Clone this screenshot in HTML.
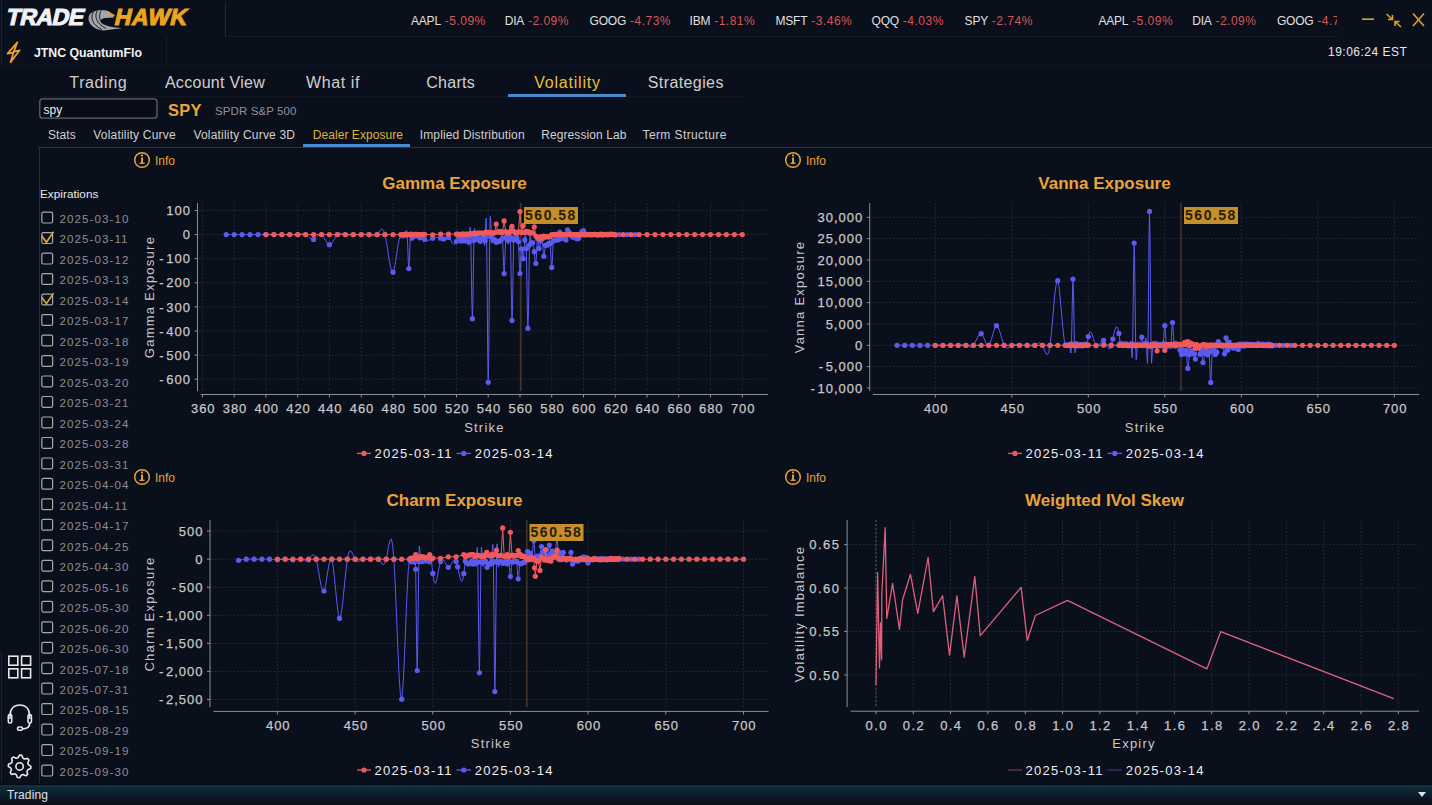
<!DOCTYPE html>
<html><head><meta charset="utf-8"><style>
html,body{margin:0;padding:0;background:#0a0f1c;width:1432px;height:805px;overflow:hidden}
svg{display:block;font-family:"Liberation Sans", sans-serif}
</style></head><body>
<svg width="1432" height="805" viewBox="0 0 1432 805">
<rect width="1432" height="805" fill="#0a0f1c"/>
<line x1="1.5" y1="0" x2="1.5" y2="65" stroke="#1c2230" stroke-width="1"/>
<line x1="225.5" y1="3" x2="225.5" y2="36.5" stroke="#252b38" stroke-width="1"/>
<line x1="225.5" y1="36.5" x2="1337" y2="36.5" stroke="#161b27" stroke-width="1"/>
<line x1="166.5" y1="36.5" x2="166.5" y2="65" stroke="#161b27" stroke-width="1"/>
<line x1="0" y1="65.5" x2="1432" y2="65.5" stroke="#11161f" stroke-width="1"/>
<line x1="40" y1="96.5" x2="743" y2="96.5" stroke="#11161f" stroke-width="1"/>
<text x="0" y="0" transform="translate(5.3,25.2) skewX(-13)" font-size="23" font-weight="bold" fill="#f2f2f2" stroke="#f2f2f2" stroke-width="1.1" letter-spacing="-0.4">TRADE</text>
<text x="0" y="0" transform="translate(113.5,25.2) skewX(-13)" font-size="23" font-weight="bold" fill="#eaa41f" stroke="#eaa41f" stroke-width="1.1" letter-spacing="0.6">HAWK</text>
<path d="M110.8,12.4 C104,8.6 94,9.2 89.6,14.6 C86.2,20.5 91.5,29.8 103.5,30.4 L121.8,28.2 C113,27.6 105,26.5 101.6,22.6 C99.8,20 101.8,18.2 105.5,18 L114,17.4 Z" fill="#a4a6ab"/>
<g fill="none" stroke="#0a0e19" stroke-width="0.9"><path d="M93.5,11.8 C90,17 92,25 102,29.5"/><path d="M97.5,10.3 C94,16 96,23.5 106,28.5"/><path d="M101.5,9.6 C98.5,15 99,20.5 103,24.5"/></g>
<path d="M108,13.6 C111,12.8 114,13.6 115,16.2 L109,16.5 Z" fill="#e8a020"/>
<text x="411" y="24.8" font-size="12" fill="#e0e0e0" letter-spacing="-0.2">AAPL<tspan fill="#d85656" letter-spacing="0.5"> -5.09%</tspan></text>
<text x="504.7" y="24.8" font-size="12" fill="#e0e0e0" letter-spacing="-0.2">DIA<tspan fill="#d85656" letter-spacing="0.5"> -2.09%</tspan></text>
<text x="589.6" y="24.8" font-size="12" fill="#e0e0e0" letter-spacing="-0.2">GOOG<tspan fill="#d85656" letter-spacing="0.5"> -4.73%</tspan></text>
<text x="689.6" y="24.8" font-size="12" fill="#e0e0e0" letter-spacing="-0.2">IBM<tspan fill="#d85656" letter-spacing="0.5"> -1.81%</tspan></text>
<text x="775.5" y="24.8" font-size="12" fill="#e0e0e0" letter-spacing="-0.2">MSFT<tspan fill="#d85656" letter-spacing="0.5"> -3.46%</tspan></text>
<text x="871.6" y="24.8" font-size="12" fill="#e0e0e0" letter-spacing="-0.2">QQQ<tspan fill="#d85656" letter-spacing="0.5"> -4.03%</tspan></text>
<text x="964.6" y="24.8" font-size="12" fill="#e0e0e0" letter-spacing="-0.2">SPY<tspan fill="#d85656" letter-spacing="0.5"> -2.74%</tspan></text>
<clipPath id="tk"><rect x="1000" y="0" width="337" height="36"/></clipPath><g clip-path="url(#tk)">
<text x="1098.4" y="24.8" font-size="12" fill="#e0e0e0" letter-spacing="-0.2">AAPL<tspan fill="#d85656" letter-spacing="0.5"> -5.09%</tspan></text>
<text x="1192.2" y="24.8" font-size="12" fill="#e0e0e0" letter-spacing="-0.2">DIA<tspan fill="#d85656" letter-spacing="0.5"> -2.09%</tspan></text>
<text x="1276.9" y="24.8" font-size="12" fill="#e0e0e0" letter-spacing="-0.2">GOOG<tspan fill="#d85656" letter-spacing="0.5"> -4.73%</tspan></text>
</g>
<g stroke="#e0a030" stroke-width="1.6" fill="none"><line x1="1362" y1="19.2" x2="1374" y2="19.2"/><path d="M1386.5,14 L1392.5,19.5 M1392.5,15 L1392.5,19.5 L1388,19.5"/><path d="M1401,27 L1395,21.5 M1395,26 L1395,21.5 L1399.5,21.5"/><line x1="1413" y1="13.5" x2="1424" y2="26"/><line x1="1424" y1="13.5" x2="1413" y2="26"/></g>
<path d="M17.3,42.3 L7.6,53.6 L13.6,52.3 L10.6,62.2 L19.6,50.3 L13.8,51.6 Z" fill="none" stroke="#e8a030" stroke-width="1.8" stroke-linejoin="round"/>
<text x="34" y="57" font-size="12.3" font-weight="bold" fill="#f2f2f2">JTNC QuantumFlo</text>
<text x="1328" y="56.2" font-size="12" fill="#e8e8e8" letter-spacing="0.5">19:06:24 EST</text>
<text x="98.3" y="88.2" font-size="16" fill="#d0d0d0" letter-spacing="0.6" text-anchor="middle">Trading</text>
<text x="215" y="88.2" font-size="16" fill="#d0d0d0" letter-spacing="0.3" text-anchor="middle">Account View</text>
<text x="333" y="88.2" font-size="16" fill="#d0d0d0" letter-spacing="0.6" text-anchor="middle">What if</text>
<text x="450.6" y="88.2" font-size="16" fill="#d0d0d0" letter-spacing="0.3" text-anchor="middle">Charts</text>
<text x="567.5" y="88.2" font-size="16" fill="#e8c040" letter-spacing="0.8" text-anchor="middle">Volatility</text>
<text x="685.8" y="88.2" font-size="16" fill="#d0d0d0" letter-spacing="0.4" text-anchor="middle">Strategies</text>
<rect x="508" y="94" width="118" height="3" fill="#4a88d0"/>
<rect x="39.8" y="98.8" width="117.2" height="19.4" rx="3" fill="#0a0d17" stroke="#62666f" stroke-width="1.25"/>
<text x="43.6" y="113.7" font-size="12" fill="#f0f0f0">spy</text>
<text x="168" y="115.8" font-size="16.5" font-weight="bold" fill="#eaa43a" letter-spacing="0.2">SPY</text>
<text x="215" y="114.5" font-size="11.5" fill="#8e9299" letter-spacing="0.1">SPDR S&amp;P 500</text>
<text x="48" y="139.3" font-size="12" fill="#d0d0d0" letter-spacing="0.1">Stats</text>
<text x="93.3" y="139.3" font-size="12" fill="#d0d0d0" letter-spacing="0.2">Volatility Curve</text>
<text x="193.4" y="139.3" font-size="12" fill="#d0d0d0" letter-spacing="0.2">Volatility Curve 3D</text>
<text x="312.8" y="139.3" font-size="12" fill="#dcb43a" letter-spacing="0.05">Dealer Exposure</text>
<text x="419.7" y="139.3" font-size="12" fill="#d0d0d0" letter-spacing="0.15">Implied Distribution</text>
<text x="541.2" y="139.3" font-size="12" fill="#d0d0d0" letter-spacing="0.1">Regression Lab</text>
<text x="642.5" y="139.3" font-size="12" fill="#d0d0d0" letter-spacing="0.4">Term Structure</text>
<line x1="38" y1="147.5" x2="1432" y2="147.5" stroke="#2e343f" stroke-width="1"/>
<rect x="303" y="144" width="107" height="3" fill="#4a88d0"/>
<line x1="39.5" y1="147" x2="39.5" y2="783" stroke="#262b36" stroke-width="1"/>
<line x1="1.5" y1="651" x2="1.5" y2="782" stroke="#1c2230" stroke-width="1"/>
<text x="40" y="197.7" font-size="11.7" fill="#e8e8e8" letter-spacing="0.05">Expirations</text>
<rect x="41.8" y="212.2" width="10.8" height="10.8" rx="1.5" fill="none" stroke="#a8aab0" stroke-width="1.2"/>
<text x="59.6" y="222.9" font-size="11.6" fill="#8c8e92" letter-spacing="1.05">2025-03-10</text>
<rect x="41.8" y="232.7" width="10.8" height="10.8" rx="1.5" fill="none" stroke="#a8aab0" stroke-width="1.2"/>
<path d="M41.9,236.0 L46.4,242.3 L53.6,231.7" fill="none" stroke="#e0ac3a" stroke-width="1.6"/>
<text x="59.6" y="243.4" font-size="11.6" fill="#8c8e92" letter-spacing="1.05">2025-03-11</text>
<rect x="41.8" y="253.2" width="10.8" height="10.8" rx="1.5" fill="none" stroke="#a8aab0" stroke-width="1.2"/>
<text x="59.6" y="263.9" font-size="11.6" fill="#8c8e92" letter-spacing="1.05">2025-03-12</text>
<rect x="41.8" y="273.6" width="10.8" height="10.8" rx="1.5" fill="none" stroke="#a8aab0" stroke-width="1.2"/>
<text x="59.6" y="284.3" font-size="11.6" fill="#8c8e92" letter-spacing="1.05">2025-03-13</text>
<rect x="41.8" y="294.1" width="10.8" height="10.8" rx="1.5" fill="none" stroke="#a8aab0" stroke-width="1.2"/>
<path d="M41.9,297.4 L46.4,303.7 L53.6,293.1" fill="none" stroke="#e0ac3a" stroke-width="1.6"/>
<text x="59.6" y="304.8" font-size="11.6" fill="#8c8e92" letter-spacing="1.05">2025-03-14</text>
<rect x="41.8" y="314.6" width="10.8" height="10.8" rx="1.5" fill="none" stroke="#a8aab0" stroke-width="1.2"/>
<text x="59.6" y="325.3" font-size="11.6" fill="#8c8e92" letter-spacing="1.05">2025-03-17</text>
<rect x="41.8" y="335.1" width="10.8" height="10.8" rx="1.5" fill="none" stroke="#a8aab0" stroke-width="1.2"/>
<text x="59.6" y="345.8" font-size="11.6" fill="#8c8e92" letter-spacing="1.05">2025-03-18</text>
<rect x="41.8" y="355.6" width="10.8" height="10.8" rx="1.5" fill="none" stroke="#a8aab0" stroke-width="1.2"/>
<text x="59.6" y="366.3" font-size="11.6" fill="#8c8e92" letter-spacing="1.05">2025-03-19</text>
<rect x="41.8" y="376.0" width="10.8" height="10.8" rx="1.5" fill="none" stroke="#a8aab0" stroke-width="1.2"/>
<text x="59.6" y="386.7" font-size="11.6" fill="#8c8e92" letter-spacing="1.05">2025-03-20</text>
<rect x="41.8" y="396.5" width="10.8" height="10.8" rx="1.5" fill="none" stroke="#a8aab0" stroke-width="1.2"/>
<text x="59.6" y="407.2" font-size="11.6" fill="#8c8e92" letter-spacing="1.05">2025-03-21</text>
<rect x="41.8" y="417.0" width="10.8" height="10.8" rx="1.5" fill="none" stroke="#a8aab0" stroke-width="1.2"/>
<text x="59.6" y="427.7" font-size="11.6" fill="#8c8e92" letter-spacing="1.05">2025-03-24</text>
<rect x="41.8" y="437.5" width="10.8" height="10.8" rx="1.5" fill="none" stroke="#a8aab0" stroke-width="1.2"/>
<text x="59.6" y="448.2" font-size="11.6" fill="#8c8e92" letter-spacing="1.05">2025-03-28</text>
<rect x="41.8" y="458.0" width="10.8" height="10.8" rx="1.5" fill="none" stroke="#a8aab0" stroke-width="1.2"/>
<text x="59.6" y="468.7" font-size="11.6" fill="#8c8e92" letter-spacing="1.05">2025-03-31</text>
<rect x="41.8" y="478.4" width="10.8" height="10.8" rx="1.5" fill="none" stroke="#a8aab0" stroke-width="1.2"/>
<text x="59.6" y="489.1" font-size="11.6" fill="#8c8e92" letter-spacing="1.05">2025-04-04</text>
<rect x="41.8" y="498.9" width="10.8" height="10.8" rx="1.5" fill="none" stroke="#a8aab0" stroke-width="1.2"/>
<text x="59.6" y="509.6" font-size="11.6" fill="#8c8e92" letter-spacing="1.05">2025-04-11</text>
<rect x="41.8" y="519.4" width="10.8" height="10.8" rx="1.5" fill="none" stroke="#a8aab0" stroke-width="1.2"/>
<text x="59.6" y="530.1" font-size="11.6" fill="#8c8e92" letter-spacing="1.05">2025-04-17</text>
<rect x="41.8" y="539.9" width="10.8" height="10.8" rx="1.5" fill="none" stroke="#a8aab0" stroke-width="1.2"/>
<text x="59.6" y="550.6" font-size="11.6" fill="#8c8e92" letter-spacing="1.05">2025-04-25</text>
<rect x="41.8" y="560.4" width="10.8" height="10.8" rx="1.5" fill="none" stroke="#a8aab0" stroke-width="1.2"/>
<text x="59.6" y="571.1" font-size="11.6" fill="#8c8e92" letter-spacing="1.05">2025-04-30</text>
<rect x="41.8" y="580.8" width="10.8" height="10.8" rx="1.5" fill="none" stroke="#a8aab0" stroke-width="1.2"/>
<text x="59.6" y="591.5" font-size="11.6" fill="#8c8e92" letter-spacing="1.05">2025-05-16</text>
<rect x="41.8" y="601.3" width="10.8" height="10.8" rx="1.5" fill="none" stroke="#a8aab0" stroke-width="1.2"/>
<text x="59.6" y="612.0" font-size="11.6" fill="#8c8e92" letter-spacing="1.05">2025-05-30</text>
<rect x="41.8" y="621.8" width="10.8" height="10.8" rx="1.5" fill="none" stroke="#a8aab0" stroke-width="1.2"/>
<text x="59.6" y="632.5" font-size="11.6" fill="#8c8e92" letter-spacing="1.05">2025-06-20</text>
<rect x="41.8" y="642.3" width="10.8" height="10.8" rx="1.5" fill="none" stroke="#a8aab0" stroke-width="1.2"/>
<text x="59.6" y="653.0" font-size="11.6" fill="#8c8e92" letter-spacing="1.05">2025-06-30</text>
<rect x="41.8" y="662.8" width="10.8" height="10.8" rx="1.5" fill="none" stroke="#a8aab0" stroke-width="1.2"/>
<text x="59.6" y="673.5" font-size="11.6" fill="#8c8e92" letter-spacing="1.05">2025-07-18</text>
<rect x="41.8" y="683.2" width="10.8" height="10.8" rx="1.5" fill="none" stroke="#a8aab0" stroke-width="1.2"/>
<text x="59.6" y="693.9" font-size="11.6" fill="#8c8e92" letter-spacing="1.05">2025-07-31</text>
<rect x="41.8" y="703.7" width="10.8" height="10.8" rx="1.5" fill="none" stroke="#a8aab0" stroke-width="1.2"/>
<text x="59.6" y="714.4" font-size="11.6" fill="#8c8e92" letter-spacing="1.05">2025-08-15</text>
<rect x="41.8" y="724.2" width="10.8" height="10.8" rx="1.5" fill="none" stroke="#a8aab0" stroke-width="1.2"/>
<text x="59.6" y="734.9" font-size="11.6" fill="#8c8e92" letter-spacing="1.05">2025-08-29</text>
<rect x="41.8" y="744.7" width="10.8" height="10.8" rx="1.5" fill="none" stroke="#a8aab0" stroke-width="1.2"/>
<text x="59.6" y="755.4" font-size="11.6" fill="#8c8e92" letter-spacing="1.05">2025-09-19</text>
<rect x="41.8" y="765.2" width="10.8" height="10.8" rx="1.5" fill="none" stroke="#a8aab0" stroke-width="1.2"/>
<text x="59.6" y="775.9" font-size="11.6" fill="#8c8e92" letter-spacing="1.05">2025-09-30</text>
<g fill="none" stroke="#e8e8e8" stroke-width="1.6"><rect x="8.8" y="656.2" width="9" height="9"/><rect x="21.6" y="656.2" width="9" height="9"/><rect x="8.8" y="668.8" width="9" height="9"/><rect x="21.6" y="668.8" width="9" height="9"/></g>
<g fill="none" stroke="#e8e8e8" stroke-width="1.6"><path d="M10,719 L10,716 C10,709 14,705 19.8,705 C25.6,705 29.6,709 29.6,716 L29.6,719"/><rect x="8.3" y="714.5" width="3.4" height="8.5" rx="1.5"/><rect x="28" y="714.5" width="3.4" height="8.5" rx="1.5"/><path d="M29.8,723 C29.8,727 27,729 22,729"/><rect x="17.5" y="727" width="5" height="3.2" rx="1.5"/></g>
<path d="M19.6,755.1 L21.8,755.3 L23.0,758.2 L24.5,759.0 L27.6,758.4 L29.0,760.1 L27.8,763.0 L28.3,764.7 L30.9,766.4 L30.7,768.6 L27.8,769.8 L27.0,771.3 L27.6,774.4 L25.9,775.8 L23.0,774.6 L21.3,775.1 L19.6,777.7 L17.4,777.5 L16.2,774.6 L14.7,773.8 L11.6,774.4 L10.2,772.7 L11.4,769.8 L10.9,768.1 L8.3,766.4 L8.5,764.2 L11.4,763.0 L12.2,761.5 L11.6,758.4 L13.3,757.0 L16.2,758.2 L17.9,757.7Z" fill="none" stroke="#e8e8e8" stroke-width="1.6" stroke-linejoin="round"/>
<circle cx="19.6" cy="766.4" r="3.7" fill="none" stroke="#e8e8e8" stroke-width="1.6"/>
<linearGradient id="sb" x1="0" y1="0" x2="0" y2="1"><stop offset="0" stop-color="#163240"/><stop offset="0.18" stop-color="#0d2b39"/><stop offset="0.45" stop-color="#0d2130"/><stop offset="0.8" stop-color="#0b1724"/><stop offset="1" stop-color="#0a111d"/></linearGradient>
<rect x="0" y="784" width="1432" height="1" fill="#040a12"/>
<rect x="0" y="785" width="1432" height="17" fill="url(#sb)"/>
<text x="7" y="799" font-size="12" fill="#e0e0e0" letter-spacing="0.1">Trading</text>
<path d="M1418,792 L1426,792 L1422,797 Z" fill="#e0e0e0"/>
<line x1="202.4" y1="203" x2="202.4" y2="391" stroke="#242a35" stroke-width="1" stroke-dasharray="2,1.7"/>
<line x1="234.2" y1="203" x2="234.2" y2="391" stroke="#242a35" stroke-width="1" stroke-dasharray="2,1.7"/>
<line x1="265.9" y1="203" x2="265.9" y2="391" stroke="#242a35" stroke-width="1" stroke-dasharray="2,1.7"/>
<line x1="297.7" y1="203" x2="297.7" y2="391" stroke="#242a35" stroke-width="1" stroke-dasharray="2,1.7"/>
<line x1="329.4" y1="203" x2="329.4" y2="391" stroke="#242a35" stroke-width="1" stroke-dasharray="2,1.7"/>
<line x1="361.2" y1="203" x2="361.2" y2="391" stroke="#242a35" stroke-width="1" stroke-dasharray="2,1.7"/>
<line x1="393.0" y1="203" x2="393.0" y2="391" stroke="#242a35" stroke-width="1" stroke-dasharray="2,1.7"/>
<line x1="424.7" y1="203" x2="424.7" y2="391" stroke="#242a35" stroke-width="1" stroke-dasharray="2,1.7"/>
<line x1="456.5" y1="203" x2="456.5" y2="391" stroke="#242a35" stroke-width="1" stroke-dasharray="2,1.7"/>
<line x1="488.2" y1="203" x2="488.2" y2="391" stroke="#242a35" stroke-width="1" stroke-dasharray="2,1.7"/>
<line x1="520.0" y1="203" x2="520.0" y2="391" stroke="#242a35" stroke-width="1" stroke-dasharray="2,1.7"/>
<line x1="551.7" y1="203" x2="551.7" y2="391" stroke="#242a35" stroke-width="1" stroke-dasharray="2,1.7"/>
<line x1="583.5" y1="203" x2="583.5" y2="391" stroke="#242a35" stroke-width="1" stroke-dasharray="2,1.7"/>
<line x1="615.3" y1="203" x2="615.3" y2="391" stroke="#242a35" stroke-width="1" stroke-dasharray="2,1.7"/>
<line x1="647.0" y1="203" x2="647.0" y2="391" stroke="#242a35" stroke-width="1" stroke-dasharray="2,1.7"/>
<line x1="678.8" y1="203" x2="678.8" y2="391" stroke="#242a35" stroke-width="1" stroke-dasharray="2,1.7"/>
<line x1="710.5" y1="203" x2="710.5" y2="391" stroke="#242a35" stroke-width="1" stroke-dasharray="2,1.7"/>
<line x1="742.3" y1="203" x2="742.3" y2="391" stroke="#242a35" stroke-width="1" stroke-dasharray="2,1.7"/>
<line x1="198.5" y1="210.5" x2="768" y2="210.5" stroke="#242a35" stroke-width="1" stroke-dasharray="2,1.7"/>
<line x1="198.5" y1="234.6" x2="768" y2="234.6" stroke="#242a35" stroke-width="1" stroke-dasharray="2,1.7"/>
<line x1="198.5" y1="258.7" x2="768" y2="258.7" stroke="#242a35" stroke-width="1" stroke-dasharray="2,1.7"/>
<line x1="198.5" y1="282.8" x2="768" y2="282.8" stroke="#242a35" stroke-width="1" stroke-dasharray="2,1.7"/>
<line x1="198.5" y1="306.9" x2="768" y2="306.9" stroke="#242a35" stroke-width="1" stroke-dasharray="2,1.7"/>
<line x1="198.5" y1="331.0" x2="768" y2="331.0" stroke="#242a35" stroke-width="1" stroke-dasharray="2,1.7"/>
<line x1="198.5" y1="355.1" x2="768" y2="355.1" stroke="#242a35" stroke-width="1" stroke-dasharray="2,1.7"/>
<line x1="198.5" y1="379.2" x2="768" y2="379.2" stroke="#242a35" stroke-width="1" stroke-dasharray="2,1.7"/>
<line x1="197.5" y1="203" x2="197.5" y2="391" stroke="#8a9099" stroke-width="1"/>
<line x1="200.8" y1="394.5" x2="768" y2="394.5" stroke="#8a9099" stroke-width="1"/>
<line x1="194.5" y1="210.5" x2="197.5" y2="210.5" stroke="#8a9099" stroke-width="1"/>
<text x="191.0" y="215.1" font-size="13" fill="#c8c8c8" font-weight="normal" letter-spacing="1.0" text-anchor="end" stroke="#c8c8c8" stroke-width="0.25">100</text>
<line x1="194.5" y1="234.6" x2="197.5" y2="234.6" stroke="#8a9099" stroke-width="1"/>
<text x="191.0" y="239.2" font-size="13" fill="#c8c8c8" font-weight="normal" letter-spacing="1.0" text-anchor="end" stroke="#c8c8c8" stroke-width="0.25">0</text>
<line x1="194.5" y1="258.7" x2="197.5" y2="258.7" stroke="#8a9099" stroke-width="1"/>
<text x="191.0" y="263.3" font-size="13" fill="#c8c8c8" font-weight="normal" letter-spacing="1.0" text-anchor="end" stroke="#c8c8c8" stroke-width="0.25">-<tspan dx="1.6">100</tspan></text>
<line x1="194.5" y1="282.8" x2="197.5" y2="282.8" stroke="#8a9099" stroke-width="1"/>
<text x="191.0" y="287.4" font-size="13" fill="#c8c8c8" font-weight="normal" letter-spacing="1.0" text-anchor="end" stroke="#c8c8c8" stroke-width="0.25">-<tspan dx="1.6">200</tspan></text>
<line x1="194.5" y1="306.9" x2="197.5" y2="306.9" stroke="#8a9099" stroke-width="1"/>
<text x="191.0" y="311.5" font-size="13" fill="#c8c8c8" font-weight="normal" letter-spacing="1.0" text-anchor="end" stroke="#c8c8c8" stroke-width="0.25">-<tspan dx="1.6">300</tspan></text>
<line x1="194.5" y1="331.0" x2="197.5" y2="331.0" stroke="#8a9099" stroke-width="1"/>
<text x="191.0" y="335.6" font-size="13" fill="#c8c8c8" font-weight="normal" letter-spacing="1.0" text-anchor="end" stroke="#c8c8c8" stroke-width="0.25">-<tspan dx="1.6">400</tspan></text>
<line x1="194.5" y1="355.1" x2="197.5" y2="355.1" stroke="#8a9099" stroke-width="1"/>
<text x="191.0" y="359.7" font-size="13" fill="#c8c8c8" font-weight="normal" letter-spacing="1.0" text-anchor="end" stroke="#c8c8c8" stroke-width="0.25">-<tspan dx="1.6">500</tspan></text>
<line x1="194.5" y1="379.2" x2="197.5" y2="379.2" stroke="#8a9099" stroke-width="1"/>
<text x="191.0" y="383.8" font-size="13" fill="#c8c8c8" font-weight="normal" letter-spacing="1.0" text-anchor="end" stroke="#c8c8c8" stroke-width="0.25">-<tspan dx="1.6">600</tspan></text>
<line x1="202.4" y1="394.5" x2="202.4" y2="397.5" stroke="#8a9099" stroke-width="1"/>
<text x="203.2" y="413.0" font-size="13" fill="#c8c8c8" font-weight="normal" letter-spacing="0.9" text-anchor="middle" stroke="#c8c8c8" stroke-width="0.25">360</text>
<line x1="234.2" y1="394.5" x2="234.2" y2="397.5" stroke="#8a9099" stroke-width="1"/>
<text x="235.0" y="413.0" font-size="13" fill="#c8c8c8" font-weight="normal" letter-spacing="0.9" text-anchor="middle" stroke="#c8c8c8" stroke-width="0.25">380</text>
<line x1="265.9" y1="394.5" x2="265.9" y2="397.5" stroke="#8a9099" stroke-width="1"/>
<text x="266.7" y="413.0" font-size="13" fill="#c8c8c8" font-weight="normal" letter-spacing="0.9" text-anchor="middle" stroke="#c8c8c8" stroke-width="0.25">400</text>
<line x1="297.7" y1="394.5" x2="297.7" y2="397.5" stroke="#8a9099" stroke-width="1"/>
<text x="298.5" y="413.0" font-size="13" fill="#c8c8c8" font-weight="normal" letter-spacing="0.9" text-anchor="middle" stroke="#c8c8c8" stroke-width="0.25">420</text>
<line x1="329.4" y1="394.5" x2="329.4" y2="397.5" stroke="#8a9099" stroke-width="1"/>
<text x="330.2" y="413.0" font-size="13" fill="#c8c8c8" font-weight="normal" letter-spacing="0.9" text-anchor="middle" stroke="#c8c8c8" stroke-width="0.25">440</text>
<line x1="361.2" y1="394.5" x2="361.2" y2="397.5" stroke="#8a9099" stroke-width="1"/>
<text x="362.0" y="413.0" font-size="13" fill="#c8c8c8" font-weight="normal" letter-spacing="0.9" text-anchor="middle" stroke="#c8c8c8" stroke-width="0.25">460</text>
<line x1="393.0" y1="394.5" x2="393.0" y2="397.5" stroke="#8a9099" stroke-width="1"/>
<text x="393.8" y="413.0" font-size="13" fill="#c8c8c8" font-weight="normal" letter-spacing="0.9" text-anchor="middle" stroke="#c8c8c8" stroke-width="0.25">480</text>
<line x1="424.7" y1="394.5" x2="424.7" y2="397.5" stroke="#8a9099" stroke-width="1"/>
<text x="425.5" y="413.0" font-size="13" fill="#c8c8c8" font-weight="normal" letter-spacing="0.9" text-anchor="middle" stroke="#c8c8c8" stroke-width="0.25">500</text>
<line x1="456.5" y1="394.5" x2="456.5" y2="397.5" stroke="#8a9099" stroke-width="1"/>
<text x="457.3" y="413.0" font-size="13" fill="#c8c8c8" font-weight="normal" letter-spacing="0.9" text-anchor="middle" stroke="#c8c8c8" stroke-width="0.25">520</text>
<line x1="488.2" y1="394.5" x2="488.2" y2="397.5" stroke="#8a9099" stroke-width="1"/>
<text x="489.0" y="413.0" font-size="13" fill="#c8c8c8" font-weight="normal" letter-spacing="0.9" text-anchor="middle" stroke="#c8c8c8" stroke-width="0.25">540</text>
<line x1="520.0" y1="394.5" x2="520.0" y2="397.5" stroke="#8a9099" stroke-width="1"/>
<text x="520.8" y="413.0" font-size="13" fill="#c8c8c8" font-weight="normal" letter-spacing="0.9" text-anchor="middle" stroke="#c8c8c8" stroke-width="0.25">560</text>
<line x1="551.7" y1="394.5" x2="551.7" y2="397.5" stroke="#8a9099" stroke-width="1"/>
<text x="552.5" y="413.0" font-size="13" fill="#c8c8c8" font-weight="normal" letter-spacing="0.9" text-anchor="middle" stroke="#c8c8c8" stroke-width="0.25">580</text>
<line x1="583.5" y1="394.5" x2="583.5" y2="397.5" stroke="#8a9099" stroke-width="1"/>
<text x="584.3" y="413.0" font-size="13" fill="#c8c8c8" font-weight="normal" letter-spacing="0.9" text-anchor="middle" stroke="#c8c8c8" stroke-width="0.25">600</text>
<line x1="615.3" y1="394.5" x2="615.3" y2="397.5" stroke="#8a9099" stroke-width="1"/>
<text x="616.1" y="413.0" font-size="13" fill="#c8c8c8" font-weight="normal" letter-spacing="0.9" text-anchor="middle" stroke="#c8c8c8" stroke-width="0.25">620</text>
<line x1="647.0" y1="394.5" x2="647.0" y2="397.5" stroke="#8a9099" stroke-width="1"/>
<text x="647.8" y="413.0" font-size="13" fill="#c8c8c8" font-weight="normal" letter-spacing="0.9" text-anchor="middle" stroke="#c8c8c8" stroke-width="0.25">640</text>
<line x1="678.8" y1="394.5" x2="678.8" y2="397.5" stroke="#8a9099" stroke-width="1"/>
<text x="679.6" y="413.0" font-size="13" fill="#c8c8c8" font-weight="normal" letter-spacing="0.9" text-anchor="middle" stroke="#c8c8c8" stroke-width="0.25">660</text>
<line x1="710.5" y1="394.5" x2="710.5" y2="397.5" stroke="#8a9099" stroke-width="1"/>
<text x="711.3" y="413.0" font-size="13" fill="#c8c8c8" font-weight="normal" letter-spacing="0.9" text-anchor="middle" stroke="#c8c8c8" stroke-width="0.25">680</text>
<line x1="742.3" y1="394.5" x2="742.3" y2="397.5" stroke="#8a9099" stroke-width="1"/>
<text x="743.1" y="413.0" font-size="13" fill="#c8c8c8" font-weight="normal" letter-spacing="0.9" text-anchor="middle" stroke="#c8c8c8" stroke-width="0.25">700</text>
<text x="454.5" y="189.3" font-size="17" fill="#e8a33a" font-weight="bold" letter-spacing="0" text-anchor="middle" >Gamma Exposure</text>
<text x="0" y="0" font-size="13" fill="#c8c8c8" letter-spacing="1.25" text-anchor="middle" transform="translate(153.5,297) rotate(-90)">Gamma Exposure</text>
<text x="484.4" y="431.5" font-size="13" fill="#c8c8c8" font-weight="normal" letter-spacing="1.2" text-anchor="middle" >Strike</text>
<circle cx="142" cy="160" r="7.3" fill="none" stroke="#e8a33a" stroke-width="1.5"/>
<rect x="141.1" y="157.5" width="1.9" height="6" fill="#e8a33a"/><rect x="141" y="154.5" width="2" height="1.8" fill="#e8a33a"/><rect x="139.5" y="162.6" width="5" height="1.3" fill="#e8a33a"/>
<text x="155.0" y="164.5" font-size="12" fill="#e8a33a" font-weight="normal" letter-spacing="0" text-anchor="start" >Info</text>
<clipPath id="cg"><rect x="198.5" y="203" width="570.5" height="191.5"/></clipPath>
<g clip-path="url(#cg)">
<line x1="520.9" y1="203" x2="520.9" y2="391" stroke="#5e4a2c" stroke-width="1"/>
<path d="M226.2,234.6 L227.5,234.6 L228.9,234.6 L230.2,234.6 L231.5,234.6 L232.8,234.6 L234.2,234.6 L235.5,234.6 L236.8,234.6 L238.1,234.6 L239.5,234.6 L240.8,234.6 L242.1,234.6 L243.4,234.6 L244.7,234.6 L246.1,234.6 L247.4,234.6 L248.7,234.6 L250.0,234.6 L251.4,234.6 L252.7,234.6 L254.0,234.6 L255.3,234.6 L256.7,234.6 L258.0,234.6 L259.3,234.6 L260.6,234.6 L261.9,234.6 L263.3,234.6 L264.6,234.6 L265.9,234.6 L267.2,234.6 L268.6,234.6 L269.9,234.6 L271.2,234.6 L272.5,234.6 L273.9,234.6 L275.2,234.6 L276.5,234.6 L277.8,234.6 L279.2,234.6 L280.5,234.6 L281.8,234.6 L283.1,234.6 L284.4,234.6 L285.8,234.5 L287.1,234.5 L288.4,234.6 L289.7,234.6 L291.1,234.7 L292.4,234.7 L293.7,234.8 L295.0,234.8 L296.4,234.7 L297.7,234.6 L299.0,234.4 L300.3,234.1 L301.6,233.9 L303.0,233.9 L304.3,234.1 L305.6,234.6 L306.9,235.5 L308.3,236.7 L309.6,237.8 L310.9,238.8 L312.2,239.4 L313.6,239.4 L314.9,238.7 L316.2,237.5 L317.5,236.2 L318.8,235.1 L320.2,234.4 L321.5,234.6 L322.8,235.8 L324.1,237.8 L325.5,240.1 L326.8,242.3 L328.1,244.0 L329.4,244.7 L330.8,244.3 L332.1,242.9 L333.4,240.8 L334.7,238.5 L336.1,236.3 L337.4,234.6 L338.7,233.6 L340.0,233.2 L341.3,233.3 L342.7,233.7 L344.0,234.1 L345.3,234.6 L346.6,234.9 L348.0,235.0 L349.3,234.9 L350.6,234.8 L351.9,234.7 L353.3,234.6 L354.6,234.6 L355.9,234.6 L357.2,234.6 L358.5,234.6 L359.9,234.6 L361.2,234.6 L362.5,234.5 L363.8,234.4 L365.2,234.3 L366.5,234.2 L367.8,234.3 L369.1,234.6 L370.5,235.1 L371.8,235.6 L373.1,236.0 L374.4,236.0 L375.8,235.7 L377.1,234.6 L378.4,232.9 L379.7,230.9 L381.0,229.5 L382.4,229.2 L383.7,230.7 L385.0,234.6 L386.3,241.3 L387.7,249.7 L389.0,258.4 L390.3,266.0 L391.6,271.1 L393.0,272.2 L394.3,268.5 L395.6,261.4 L396.9,252.6 L398.2,243.9 L399.6,237.3 L400.9,234.6 L401.4,234.9 L402.0,235.5 L402.5,236.0 L403.0,235.8 L403.5,235.5 L404.1,235.5 L404.6,236.2 L405.1,236.6 L405.7,235.3 L406.2,232.1 L406.7,230.4 L407.2,234.8 L407.8,247.6 L408.3,261.9 L408.8,268.6 L409.4,261.6 L409.9,247.3 L410.4,234.9 L410.9,231.4 L411.5,234.1 L412.0,238.1 L412.5,239.3 L413.1,238.3 L413.6,236.5 L414.1,235.3 L414.7,234.8 L415.2,234.8 L415.7,235.2 L416.2,235.7 L416.8,235.9 L417.3,235.5 L417.8,235.0 L418.4,235.0 L418.9,235.8 L419.4,237.0 L419.9,237.8 L420.5,237.7 L421.0,237.1 L421.5,236.5 L422.1,236.4 L422.6,236.7 L423.1,237.3 L423.7,238.0 L424.2,238.8 L424.7,239.4 L426.0,240.5 L427.4,240.7 L428.7,240.4 L430.0,239.8 L431.3,239.0 L432.7,238.2 L434.0,237.7 L435.3,237.4 L436.6,237.3 L437.9,237.4 L439.3,237.7 L440.6,238.2 L441.1,238.4 L441.6,238.6 L442.2,238.8 L442.7,238.9 L443.2,239.0 L443.8,238.9 L444.6,238.6 L445.4,238.2 L446.1,237.7 L446.9,237.3 L447.7,237.2 L448.5,237.4 L449.9,238.9 L451.2,241.0 L452.5,243.1 L453.8,244.4 L455.1,244.0 L456.5,241.3 L457.0,239.5 L457.5,237.7 L458.1,236.3 L458.6,235.8 L459.1,236.1 L459.6,237.2 L460.2,238.9 L460.7,240.4 L461.2,240.9 L461.8,239.7 L462.3,237.9 L462.8,237.0 L463.4,238.0 L463.9,239.8 L464.4,241.0 L464.9,240.6 L465.5,239.3 L466.0,238.1 L466.5,237.9 L467.1,238.8 L467.6,241.1 L468.1,244.1 L468.6,245.4 L469.2,241.8 L469.7,232.8 L470.2,227.2 L470.8,236.6 L471.3,266.7 L471.8,301.4 L472.4,318.7 L472.9,304.0 L473.4,271.0 L473.9,240.5 L474.5,228.4 L475.0,230.1 L475.5,235.9 L476.1,238.3 L476.6,237.7 L477.1,236.6 L477.6,237.0 L478.2,238.5 L478.7,240.1 L479.2,241.1 L479.8,241.5 L480.3,241.3 L480.8,240.9 L481.3,240.0 L481.9,238.6 L482.4,236.8 L482.9,236.0 L483.5,237.7 L484.0,242.5 L484.5,245.5 L485.1,240.6 L485.6,226.2 L486.1,218.0 L486.6,236.2 L487.2,290.9 L487.7,352.8 L488.2,382.3 L488.8,353.3 L489.3,291.5 L489.8,236.0 L490.3,216.1 L490.9,222.5 L491.4,236.4 L491.9,243.0 L492.5,242.7 L493.0,240.0 L493.5,238.6 L494.1,238.7 L494.6,239.7 L495.1,240.8 L495.6,241.8 L496.2,242.3 L496.7,242.1 L497.2,241.5 L497.8,241.0 L498.3,240.7 L498.8,240.9 L499.3,241.4 L499.9,242.1 L500.4,242.0 L500.9,240.0 L501.5,236.0 L502.0,233.8 L502.5,238.2 L503.1,251.5 L503.6,266.5 L504.1,273.6 L504.6,266.5 L505.2,251.3 L505.7,237.7 L506.2,232.9 L506.8,235.0 L507.3,239.8 L507.8,243.6 L508.3,244.3 L508.9,240.0 L509.4,231.1 L509.9,226.4 L510.5,236.9 L511.0,268.0 L511.5,303.2 L512.0,320.4 L512.6,304.8 L513.1,270.8 L513.6,239.9 L514.2,228.6 L514.7,231.8 L515.2,238.9 L515.8,241.8 L516.3,240.6 L516.8,237.6 L517.3,235.0 L517.9,235.4 L518.4,241.5 L518.9,254.0 L519.5,267.3 L520.0,273.6 L520.5,268.3 L521.0,257.2 L521.6,248.8 L522.1,249.3 L522.6,254.8 L523.2,258.7 L523.7,256.3 L524.2,249.0 L524.8,239.9 L525.3,232.7 L525.8,233.3 L526.3,248.6 L526.9,280.6 L527.4,313.8 L527.9,328.3 L528.5,311.1 L529.0,276.3 L529.5,245.1 L530.0,233.4 L530.6,236.1 L531.1,242.8 L531.6,245.2 L532.2,244.2 L532.7,242.8 L533.2,243.4 L533.8,246.4 L534.3,251.7 L534.8,258.5 L535.3,263.6 L535.9,263.5 L536.4,256.0 L536.9,245.7 L537.5,238.7 L538.0,239.2 L538.5,244.2 L539.0,248.6 L539.6,248.6 L540.1,245.2 L540.6,240.9 L541.2,237.5 L541.7,236.5 L542.2,239.0 L542.7,245.2 L543.3,252.3 L543.8,256.3 L544.3,254.7 L544.9,249.9 L545.4,245.3 L545.9,243.6 L546.5,244.1 L547.0,245.2 L547.5,245.6 L548.0,245.1 L548.6,243.4 L549.1,241.0 L549.6,240.2 L550.2,243.8 L550.7,253.0 L551.2,263.0 L551.7,267.4 L552.3,261.8 L552.8,250.7 L553.3,240.9 L553.9,237.4 L554.4,238.4 L554.9,240.4 L555.5,240.9 L556.0,240.2 L556.5,239.7 L557.0,240.2 L557.6,240.7 L558.1,239.9 L558.6,237.1 L559.2,233.9 L559.7,232.1 L560.2,233.3 L560.7,236.2 L561.3,238.7 L561.8,239.4 L562.3,238.5 L562.9,236.8 L563.4,235.1 L563.9,234.2 L564.5,234.7 L565.0,237.0 L565.5,239.4 L566.0,239.9 L566.6,237.2 L567.1,233.1 L567.6,229.8 L568.2,229.1 L568.7,230.4 L569.2,232.3 L569.7,233.7 L570.3,234.5 L570.8,235.2 L571.3,235.9 L571.9,236.6 L572.4,237.0 L572.9,237.1 L573.4,237.0 L574.0,237.0 L574.5,237.2 L575.0,237.6 L575.6,238.1 L576.1,238.4 L576.6,238.6 L577.2,238.8 L577.7,239.0 L578.2,238.9 L578.7,238.3 L579.3,237.1 L579.8,235.5 L580.3,234.1 L580.9,233.1 L581.4,232.4 L581.9,231.7 L582.4,231.0 L583.0,230.5 L583.5,230.7 L584.0,232.1 L584.6,233.8 L585.1,235.0 L585.6,235.2 L586.2,234.7 L586.7,234.1 L587.2,234.0 L587.7,234.3 L588.3,234.6 L588.8,234.7 L589.3,234.7 L589.9,234.7 L590.4,234.7 L590.9,234.8 L591.4,234.9 L592.0,234.8 L592.5,234.7 L593.0,234.5 L593.6,234.4 L594.1,234.3 L594.6,234.3 L595.2,234.4 L595.7,234.5 L596.2,234.6 L596.7,234.6 L597.3,234.6 L597.8,234.7 L598.3,234.9 L598.9,235.0 L599.4,235.0 L599.9,234.7 L600.4,234.4 L601.0,234.2 L601.5,234.4 L602.0,234.8 L602.6,235.1 L603.1,235.1 L603.6,234.9 L604.1,234.6 L604.7,234.4 L605.2,234.2 L605.7,234.3 L606.3,234.5 L606.8,234.8 L607.3,235.0 L607.9,234.9 L608.4,234.6 L608.9,234.4 L609.4,234.2 L610.0,234.1 L610.5,234.2 L611.0,234.3 L611.6,234.4 L612.1,234.5 L612.6,234.4 L613.1,234.3 L613.7,234.3 L614.2,234.5 L614.7,234.7 L615.3,235.0 L615.9,235.1 L616.6,235.2 L617.2,235.1 L617.9,234.9 L618.6,234.8 L619.2,234.6 L620.6,234.4 L621.9,234.3 L623.2,234.3 L624.5,234.4 L625.9,234.5 L627.2,234.6 L628.5,234.7 L629.8,234.7 L631.1,234.7 L632.5,234.7 L633.8,234.6 L635.1,234.6" fill="none" stroke="#5b5bf0" stroke-width="1.0" stroke-linejoin="round"/>
<circle cx="226.2" cy="234.6" r="2.6" fill="#5b5bf0"/>
<circle cx="234.2" cy="234.6" r="2.6" fill="#5b5bf0"/>
<circle cx="242.1" cy="234.6" r="2.6" fill="#5b5bf0"/>
<circle cx="250.0" cy="234.6" r="2.6" fill="#5b5bf0"/>
<circle cx="258.0" cy="234.6" r="2.6" fill="#5b5bf0"/>
<circle cx="265.9" cy="234.6" r="2.6" fill="#5b5bf0"/>
<circle cx="273.9" cy="234.6" r="2.6" fill="#5b5bf0"/>
<circle cx="281.8" cy="234.6" r="2.6" fill="#5b5bf0"/>
<circle cx="289.7" cy="234.6" r="2.6" fill="#5b5bf0"/>
<circle cx="297.7" cy="234.6" r="2.6" fill="#5b5bf0"/>
<circle cx="305.6" cy="234.6" r="2.6" fill="#5b5bf0"/>
<circle cx="313.6" cy="239.4" r="2.6" fill="#5b5bf0"/>
<circle cx="321.5" cy="234.6" r="2.6" fill="#5b5bf0"/>
<circle cx="329.4" cy="244.7" r="2.6" fill="#5b5bf0"/>
<circle cx="337.4" cy="234.6" r="2.6" fill="#5b5bf0"/>
<circle cx="345.3" cy="234.6" r="2.6" fill="#5b5bf0"/>
<circle cx="353.3" cy="234.6" r="2.6" fill="#5b5bf0"/>
<circle cx="361.2" cy="234.6" r="2.6" fill="#5b5bf0"/>
<circle cx="369.1" cy="234.6" r="2.6" fill="#5b5bf0"/>
<circle cx="377.1" cy="234.6" r="2.6" fill="#5b5bf0"/>
<circle cx="385.0" cy="234.6" r="2.6" fill="#5b5bf0"/>
<circle cx="393.0" cy="272.2" r="2.6" fill="#5b5bf0"/>
<circle cx="400.9" cy="234.6" r="2.6" fill="#5b5bf0"/>
<circle cx="402.5" cy="236.0" r="2.6" fill="#5b5bf0"/>
<circle cx="404.1" cy="235.5" r="2.6" fill="#5b5bf0"/>
<circle cx="405.7" cy="235.3" r="2.6" fill="#5b5bf0"/>
<circle cx="407.2" cy="234.8" r="2.6" fill="#5b5bf0"/>
<circle cx="408.8" cy="268.6" r="2.6" fill="#5b5bf0"/>
<circle cx="410.4" cy="234.9" r="2.6" fill="#5b5bf0"/>
<circle cx="412.0" cy="238.1" r="2.6" fill="#5b5bf0"/>
<circle cx="413.6" cy="236.5" r="2.6" fill="#5b5bf0"/>
<circle cx="415.2" cy="234.8" r="2.6" fill="#5b5bf0"/>
<circle cx="416.8" cy="235.9" r="2.6" fill="#5b5bf0"/>
<circle cx="418.4" cy="235.0" r="2.6" fill="#5b5bf0"/>
<circle cx="419.9" cy="237.8" r="2.6" fill="#5b5bf0"/>
<circle cx="421.5" cy="236.5" r="2.6" fill="#5b5bf0"/>
<circle cx="423.1" cy="237.3" r="2.6" fill="#5b5bf0"/>
<circle cx="424.7" cy="239.4" r="2.6" fill="#5b5bf0"/>
<circle cx="432.7" cy="238.2" r="2.6" fill="#5b5bf0"/>
<circle cx="440.6" cy="238.2" r="2.6" fill="#5b5bf0"/>
<circle cx="443.8" cy="238.9" r="2.6" fill="#5b5bf0"/>
<circle cx="448.5" cy="237.4" r="2.6" fill="#5b5bf0"/>
<circle cx="456.5" cy="241.3" r="2.6" fill="#5b5bf0"/>
<circle cx="458.1" cy="236.3" r="2.6" fill="#5b5bf0"/>
<circle cx="459.6" cy="237.2" r="2.6" fill="#5b5bf0"/>
<circle cx="461.2" cy="240.9" r="2.6" fill="#5b5bf0"/>
<circle cx="462.8" cy="237.0" r="2.6" fill="#5b5bf0"/>
<circle cx="464.4" cy="241.0" r="2.6" fill="#5b5bf0"/>
<circle cx="466.0" cy="238.1" r="2.6" fill="#5b5bf0"/>
<circle cx="467.6" cy="241.1" r="2.6" fill="#5b5bf0"/>
<circle cx="469.2" cy="241.8" r="2.6" fill="#5b5bf0"/>
<circle cx="470.8" cy="236.6" r="2.6" fill="#5b5bf0"/>
<circle cx="472.4" cy="318.7" r="2.6" fill="#5b5bf0"/>
<circle cx="473.9" cy="240.5" r="2.6" fill="#5b5bf0"/>
<circle cx="475.5" cy="235.9" r="2.6" fill="#5b5bf0"/>
<circle cx="477.1" cy="236.6" r="2.6" fill="#5b5bf0"/>
<circle cx="478.7" cy="240.1" r="2.6" fill="#5b5bf0"/>
<circle cx="480.3" cy="241.3" r="2.6" fill="#5b5bf0"/>
<circle cx="481.9" cy="238.6" r="2.6" fill="#5b5bf0"/>
<circle cx="483.5" cy="237.7" r="2.6" fill="#5b5bf0"/>
<circle cx="485.1" cy="240.6" r="2.6" fill="#5b5bf0"/>
<circle cx="486.6" cy="236.2" r="2.6" fill="#5b5bf0"/>
<circle cx="488.2" cy="382.3" r="2.6" fill="#5b5bf0"/>
<circle cx="489.8" cy="236.0" r="2.6" fill="#5b5bf0"/>
<circle cx="491.4" cy="236.4" r="2.6" fill="#5b5bf0"/>
<circle cx="493.0" cy="240.0" r="2.6" fill="#5b5bf0"/>
<circle cx="494.6" cy="239.7" r="2.6" fill="#5b5bf0"/>
<circle cx="496.2" cy="242.3" r="2.6" fill="#5b5bf0"/>
<circle cx="497.8" cy="241.0" r="2.6" fill="#5b5bf0"/>
<circle cx="499.3" cy="241.4" r="2.6" fill="#5b5bf0"/>
<circle cx="500.9" cy="240.0" r="2.6" fill="#5b5bf0"/>
<circle cx="502.5" cy="238.2" r="2.6" fill="#5b5bf0"/>
<circle cx="504.1" cy="273.6" r="2.6" fill="#5b5bf0"/>
<circle cx="505.7" cy="237.7" r="2.6" fill="#5b5bf0"/>
<circle cx="507.3" cy="239.8" r="2.6" fill="#5b5bf0"/>
<circle cx="508.9" cy="240.0" r="2.6" fill="#5b5bf0"/>
<circle cx="510.5" cy="236.9" r="2.6" fill="#5b5bf0"/>
<circle cx="512.0" cy="320.4" r="2.6" fill="#5b5bf0"/>
<circle cx="513.6" cy="239.9" r="2.6" fill="#5b5bf0"/>
<circle cx="515.2" cy="238.9" r="2.6" fill="#5b5bf0"/>
<circle cx="516.8" cy="237.6" r="2.6" fill="#5b5bf0"/>
<circle cx="518.4" cy="241.5" r="2.6" fill="#5b5bf0"/>
<circle cx="520.0" cy="273.6" r="2.6" fill="#5b5bf0"/>
<circle cx="521.6" cy="248.8" r="2.6" fill="#5b5bf0"/>
<circle cx="523.2" cy="258.7" r="2.6" fill="#5b5bf0"/>
<circle cx="524.8" cy="239.9" r="2.6" fill="#5b5bf0"/>
<circle cx="526.3" cy="248.6" r="2.6" fill="#5b5bf0"/>
<circle cx="527.9" cy="328.3" r="2.6" fill="#5b5bf0"/>
<circle cx="529.5" cy="245.1" r="2.6" fill="#5b5bf0"/>
<circle cx="531.1" cy="242.8" r="2.6" fill="#5b5bf0"/>
<circle cx="532.7" cy="242.8" r="2.6" fill="#5b5bf0"/>
<circle cx="534.3" cy="251.7" r="2.6" fill="#5b5bf0"/>
<circle cx="535.9" cy="263.5" r="2.6" fill="#5b5bf0"/>
<circle cx="537.5" cy="238.7" r="2.6" fill="#5b5bf0"/>
<circle cx="539.0" cy="248.6" r="2.6" fill="#5b5bf0"/>
<circle cx="540.6" cy="240.9" r="2.6" fill="#5b5bf0"/>
<circle cx="542.2" cy="239.0" r="2.6" fill="#5b5bf0"/>
<circle cx="543.8" cy="256.3" r="2.6" fill="#5b5bf0"/>
<circle cx="545.4" cy="245.3" r="2.6" fill="#5b5bf0"/>
<circle cx="547.0" cy="245.2" r="2.6" fill="#5b5bf0"/>
<circle cx="548.6" cy="243.4" r="2.6" fill="#5b5bf0"/>
<circle cx="550.2" cy="243.8" r="2.6" fill="#5b5bf0"/>
<circle cx="551.7" cy="267.4" r="2.6" fill="#5b5bf0"/>
<circle cx="553.3" cy="240.9" r="2.6" fill="#5b5bf0"/>
<circle cx="554.9" cy="240.4" r="2.6" fill="#5b5bf0"/>
<circle cx="556.5" cy="239.7" r="2.6" fill="#5b5bf0"/>
<circle cx="558.1" cy="239.9" r="2.6" fill="#5b5bf0"/>
<circle cx="559.7" cy="232.1" r="2.6" fill="#5b5bf0"/>
<circle cx="561.3" cy="238.7" r="2.6" fill="#5b5bf0"/>
<circle cx="562.9" cy="236.8" r="2.6" fill="#5b5bf0"/>
<circle cx="564.5" cy="234.7" r="2.6" fill="#5b5bf0"/>
<circle cx="566.0" cy="239.9" r="2.6" fill="#5b5bf0"/>
<circle cx="567.6" cy="229.8" r="2.6" fill="#5b5bf0"/>
<circle cx="569.2" cy="232.3" r="2.6" fill="#5b5bf0"/>
<circle cx="570.8" cy="235.2" r="2.6" fill="#5b5bf0"/>
<circle cx="572.4" cy="237.0" r="2.6" fill="#5b5bf0"/>
<circle cx="574.0" cy="237.0" r="2.6" fill="#5b5bf0"/>
<circle cx="575.6" cy="238.1" r="2.6" fill="#5b5bf0"/>
<circle cx="577.2" cy="238.8" r="2.6" fill="#5b5bf0"/>
<circle cx="578.7" cy="238.3" r="2.6" fill="#5b5bf0"/>
<circle cx="580.3" cy="234.1" r="2.6" fill="#5b5bf0"/>
<circle cx="581.9" cy="231.7" r="2.6" fill="#5b5bf0"/>
<circle cx="583.5" cy="230.7" r="2.6" fill="#5b5bf0"/>
<circle cx="585.1" cy="235.0" r="2.6" fill="#5b5bf0"/>
<circle cx="586.7" cy="234.1" r="2.6" fill="#5b5bf0"/>
<circle cx="588.3" cy="234.6" r="2.6" fill="#5b5bf0"/>
<circle cx="589.9" cy="234.7" r="2.6" fill="#5b5bf0"/>
<circle cx="591.4" cy="234.9" r="2.6" fill="#5b5bf0"/>
<circle cx="593.0" cy="234.5" r="2.6" fill="#5b5bf0"/>
<circle cx="594.6" cy="234.3" r="2.6" fill="#5b5bf0"/>
<circle cx="596.2" cy="234.6" r="2.6" fill="#5b5bf0"/>
<circle cx="597.8" cy="234.7" r="2.6" fill="#5b5bf0"/>
<circle cx="599.4" cy="235.0" r="2.6" fill="#5b5bf0"/>
<circle cx="601.0" cy="234.2" r="2.6" fill="#5b5bf0"/>
<circle cx="602.6" cy="235.1" r="2.6" fill="#5b5bf0"/>
<circle cx="604.1" cy="234.6" r="2.6" fill="#5b5bf0"/>
<circle cx="605.7" cy="234.3" r="2.6" fill="#5b5bf0"/>
<circle cx="607.3" cy="235.0" r="2.6" fill="#5b5bf0"/>
<circle cx="608.9" cy="234.4" r="2.6" fill="#5b5bf0"/>
<circle cx="610.5" cy="234.2" r="2.6" fill="#5b5bf0"/>
<circle cx="612.1" cy="234.5" r="2.6" fill="#5b5bf0"/>
<circle cx="613.7" cy="234.3" r="2.6" fill="#5b5bf0"/>
<circle cx="615.3" cy="235.0" r="2.6" fill="#5b5bf0"/>
<circle cx="619.2" cy="234.6" r="2.6" fill="#5b5bf0"/>
<circle cx="627.2" cy="234.6" r="2.6" fill="#5b5bf0"/>
<circle cx="635.1" cy="234.6" r="2.6" fill="#5b5bf0"/>
<path d="M265.9,234.6 L273.9,234.6 L281.8,234.6 L289.7,234.6 L297.7,234.6 L305.6,234.6 L313.6,234.6 L321.5,234.6 L329.4,234.6 L337.4,234.6 L345.3,234.6 L353.3,234.6 L361.2,234.6 L369.1,234.6 L377.1,234.6 L385.0,234.6 L393.0,234.6 L400.9,234.6 L402.5,234.5 L404.1,234.4 L405.7,234.2 L407.2,234.5 L408.8,234.5 L410.4,234.4 L412.0,234.7 L413.6,234.5 L415.2,234.4 L416.8,234.3 L418.4,234.8 L419.9,234.6 L421.5,234.8 L423.1,234.3 L424.7,234.3 L432.7,234.8 L440.6,234.1 L448.5,234.1 L456.5,234.1 L458.1,234.0 L459.6,234.5 L461.2,234.6 L462.8,233.9 L464.4,234.4 L466.0,234.2 L467.6,234.0 L469.2,234.2 L470.8,233.6 L472.4,233.6 L473.9,233.0 L475.5,233.3 L477.1,233.1 L478.7,233.2 L480.3,233.0 L481.9,233.1 L483.5,233.3 L485.1,232.3 L486.6,232.3 L488.2,232.4 L489.8,232.5 L491.4,232.9 L493.0,232.9 L494.6,232.8 L496.2,224.0 L497.8,231.7 L499.3,232.4 L500.9,231.5 L502.5,232.4 L504.1,220.9 L505.7,231.5 L507.3,233.2 L508.9,232.7 L510.5,231.4 L512.0,226.4 L513.6,231.3 L515.2,232.4 L516.8,233.0 L518.4,231.9 L520.0,211.5 L521.6,232.6 L523.2,225.7 L524.8,232.5 L526.3,231.3 L527.9,231.7 L529.5,232.9 L531.1,232.7 L532.7,233.0 L534.3,226.9 L535.9,236.1 L537.5,237.0 L539.0,238.7 L540.6,236.6 L542.2,238.0 L543.8,236.2 L545.4,237.1 L547.0,236.3 L548.6,237.1 L550.2,236.6 L551.7,234.7 L553.3,234.7 L554.9,234.4 L556.5,234.5 L558.1,234.7 L559.7,234.4 L561.3,234.7 L562.9,234.7 L564.5,234.4 L566.0,234.5 L567.6,234.8 L569.2,234.4 L570.8,234.7 L572.4,234.7 L574.0,234.5 L575.6,234.7 L577.2,234.7 L578.7,234.8 L580.3,234.8 L581.9,234.6 L583.5,234.7 L585.1,234.6 L586.7,234.7 L588.3,234.6 L589.9,234.4 L591.4,234.6 L593.0,234.6 L594.6,234.4 L596.2,234.8 L597.8,234.8 L599.4,234.4 L601.0,234.4 L602.6,234.7 L604.1,234.7 L605.7,234.5 L607.3,234.4 L608.9,234.7 L610.5,234.4 L612.1,234.4 L613.7,234.6 L615.3,234.6 L623.2,234.6 L631.1,234.6 L639.1,234.6 L647.0,234.6 L655.0,234.6 L662.9,234.6 L670.8,234.6 L678.8,234.6 L686.7,234.6 L694.7,234.6 L702.6,234.6 L710.5,234.6 L718.5,234.6 L726.4,234.6 L734.4,234.6 L742.3,234.6" fill="none" stroke="#f05a5e" stroke-width="1.0" stroke-linejoin="round"/>
<circle cx="265.9" cy="234.6" r="2.6" fill="#f05a5e"/>
<circle cx="273.9" cy="234.6" r="2.6" fill="#f05a5e"/>
<circle cx="281.8" cy="234.6" r="2.6" fill="#f05a5e"/>
<circle cx="289.7" cy="234.6" r="2.6" fill="#f05a5e"/>
<circle cx="297.7" cy="234.6" r="2.6" fill="#f05a5e"/>
<circle cx="305.6" cy="234.6" r="2.6" fill="#f05a5e"/>
<circle cx="313.6" cy="234.6" r="2.6" fill="#f05a5e"/>
<circle cx="321.5" cy="234.6" r="2.6" fill="#f05a5e"/>
<circle cx="329.4" cy="234.6" r="2.6" fill="#f05a5e"/>
<circle cx="337.4" cy="234.6" r="2.6" fill="#f05a5e"/>
<circle cx="345.3" cy="234.6" r="2.6" fill="#f05a5e"/>
<circle cx="353.3" cy="234.6" r="2.6" fill="#f05a5e"/>
<circle cx="361.2" cy="234.6" r="2.6" fill="#f05a5e"/>
<circle cx="369.1" cy="234.6" r="2.6" fill="#f05a5e"/>
<circle cx="377.1" cy="234.6" r="2.6" fill="#f05a5e"/>
<circle cx="385.0" cy="234.6" r="2.6" fill="#f05a5e"/>
<circle cx="393.0" cy="234.6" r="2.6" fill="#f05a5e"/>
<circle cx="400.9" cy="234.6" r="2.6" fill="#f05a5e"/>
<circle cx="402.5" cy="234.5" r="2.6" fill="#f05a5e"/>
<circle cx="404.1" cy="234.4" r="2.6" fill="#f05a5e"/>
<circle cx="405.7" cy="234.2" r="2.6" fill="#f05a5e"/>
<circle cx="407.2" cy="234.5" r="2.6" fill="#f05a5e"/>
<circle cx="408.8" cy="234.5" r="2.6" fill="#f05a5e"/>
<circle cx="410.4" cy="234.4" r="2.6" fill="#f05a5e"/>
<circle cx="412.0" cy="234.7" r="2.6" fill="#f05a5e"/>
<circle cx="413.6" cy="234.5" r="2.6" fill="#f05a5e"/>
<circle cx="415.2" cy="234.4" r="2.6" fill="#f05a5e"/>
<circle cx="416.8" cy="234.3" r="2.6" fill="#f05a5e"/>
<circle cx="418.4" cy="234.8" r="2.6" fill="#f05a5e"/>
<circle cx="419.9" cy="234.6" r="2.6" fill="#f05a5e"/>
<circle cx="421.5" cy="234.8" r="2.6" fill="#f05a5e"/>
<circle cx="423.1" cy="234.3" r="2.6" fill="#f05a5e"/>
<circle cx="424.7" cy="234.3" r="2.6" fill="#f05a5e"/>
<circle cx="432.7" cy="234.8" r="2.6" fill="#f05a5e"/>
<circle cx="440.6" cy="234.1" r="2.6" fill="#f05a5e"/>
<circle cx="448.5" cy="234.1" r="2.6" fill="#f05a5e"/>
<circle cx="456.5" cy="234.1" r="2.6" fill="#f05a5e"/>
<circle cx="458.1" cy="234.0" r="2.6" fill="#f05a5e"/>
<circle cx="459.6" cy="234.5" r="2.6" fill="#f05a5e"/>
<circle cx="461.2" cy="234.6" r="2.6" fill="#f05a5e"/>
<circle cx="462.8" cy="233.9" r="2.6" fill="#f05a5e"/>
<circle cx="464.4" cy="234.4" r="2.6" fill="#f05a5e"/>
<circle cx="466.0" cy="234.2" r="2.6" fill="#f05a5e"/>
<circle cx="467.6" cy="234.0" r="2.6" fill="#f05a5e"/>
<circle cx="469.2" cy="234.2" r="2.6" fill="#f05a5e"/>
<circle cx="470.8" cy="233.6" r="2.6" fill="#f05a5e"/>
<circle cx="472.4" cy="233.6" r="2.6" fill="#f05a5e"/>
<circle cx="473.9" cy="233.0" r="2.6" fill="#f05a5e"/>
<circle cx="475.5" cy="233.3" r="2.6" fill="#f05a5e"/>
<circle cx="477.1" cy="233.1" r="2.6" fill="#f05a5e"/>
<circle cx="478.7" cy="233.2" r="2.6" fill="#f05a5e"/>
<circle cx="480.3" cy="233.0" r="2.6" fill="#f05a5e"/>
<circle cx="481.9" cy="233.1" r="2.6" fill="#f05a5e"/>
<circle cx="483.5" cy="233.3" r="2.6" fill="#f05a5e"/>
<circle cx="485.1" cy="232.3" r="2.6" fill="#f05a5e"/>
<circle cx="486.6" cy="232.3" r="2.6" fill="#f05a5e"/>
<circle cx="488.2" cy="232.4" r="2.6" fill="#f05a5e"/>
<circle cx="489.8" cy="232.5" r="2.6" fill="#f05a5e"/>
<circle cx="491.4" cy="232.9" r="2.6" fill="#f05a5e"/>
<circle cx="493.0" cy="232.9" r="2.6" fill="#f05a5e"/>
<circle cx="494.6" cy="232.8" r="2.6" fill="#f05a5e"/>
<circle cx="496.2" cy="224.0" r="2.6" fill="#f05a5e"/>
<circle cx="497.8" cy="231.7" r="2.6" fill="#f05a5e"/>
<circle cx="499.3" cy="232.4" r="2.6" fill="#f05a5e"/>
<circle cx="500.9" cy="231.5" r="2.6" fill="#f05a5e"/>
<circle cx="502.5" cy="232.4" r="2.6" fill="#f05a5e"/>
<circle cx="504.1" cy="220.9" r="2.6" fill="#f05a5e"/>
<circle cx="505.7" cy="231.5" r="2.6" fill="#f05a5e"/>
<circle cx="507.3" cy="233.2" r="2.6" fill="#f05a5e"/>
<circle cx="508.9" cy="232.7" r="2.6" fill="#f05a5e"/>
<circle cx="510.5" cy="231.4" r="2.6" fill="#f05a5e"/>
<circle cx="512.0" cy="226.4" r="2.6" fill="#f05a5e"/>
<circle cx="513.6" cy="231.3" r="2.6" fill="#f05a5e"/>
<circle cx="515.2" cy="232.4" r="2.6" fill="#f05a5e"/>
<circle cx="516.8" cy="233.0" r="2.6" fill="#f05a5e"/>
<circle cx="518.4" cy="231.9" r="2.6" fill="#f05a5e"/>
<circle cx="520.0" cy="211.5" r="2.6" fill="#f05a5e"/>
<circle cx="521.6" cy="232.6" r="2.6" fill="#f05a5e"/>
<circle cx="523.2" cy="225.7" r="2.6" fill="#f05a5e"/>
<circle cx="524.8" cy="232.5" r="2.6" fill="#f05a5e"/>
<circle cx="526.3" cy="231.3" r="2.6" fill="#f05a5e"/>
<circle cx="527.9" cy="231.7" r="2.6" fill="#f05a5e"/>
<circle cx="529.5" cy="232.9" r="2.6" fill="#f05a5e"/>
<circle cx="531.1" cy="232.7" r="2.6" fill="#f05a5e"/>
<circle cx="532.7" cy="233.0" r="2.6" fill="#f05a5e"/>
<circle cx="534.3" cy="226.9" r="2.6" fill="#f05a5e"/>
<circle cx="535.9" cy="236.1" r="2.6" fill="#f05a5e"/>
<circle cx="537.5" cy="237.0" r="2.6" fill="#f05a5e"/>
<circle cx="539.0" cy="238.7" r="2.6" fill="#f05a5e"/>
<circle cx="540.6" cy="236.6" r="2.6" fill="#f05a5e"/>
<circle cx="542.2" cy="238.0" r="2.6" fill="#f05a5e"/>
<circle cx="543.8" cy="236.2" r="2.6" fill="#f05a5e"/>
<circle cx="545.4" cy="237.1" r="2.6" fill="#f05a5e"/>
<circle cx="547.0" cy="236.3" r="2.6" fill="#f05a5e"/>
<circle cx="548.6" cy="237.1" r="2.6" fill="#f05a5e"/>
<circle cx="550.2" cy="236.6" r="2.6" fill="#f05a5e"/>
<circle cx="551.7" cy="234.7" r="2.6" fill="#f05a5e"/>
<circle cx="553.3" cy="234.7" r="2.6" fill="#f05a5e"/>
<circle cx="554.9" cy="234.4" r="2.6" fill="#f05a5e"/>
<circle cx="556.5" cy="234.5" r="2.6" fill="#f05a5e"/>
<circle cx="558.1" cy="234.7" r="2.6" fill="#f05a5e"/>
<circle cx="559.7" cy="234.4" r="2.6" fill="#f05a5e"/>
<circle cx="561.3" cy="234.7" r="2.6" fill="#f05a5e"/>
<circle cx="562.9" cy="234.7" r="2.6" fill="#f05a5e"/>
<circle cx="564.5" cy="234.4" r="2.6" fill="#f05a5e"/>
<circle cx="566.0" cy="234.5" r="2.6" fill="#f05a5e"/>
<circle cx="567.6" cy="234.8" r="2.6" fill="#f05a5e"/>
<circle cx="569.2" cy="234.4" r="2.6" fill="#f05a5e"/>
<circle cx="570.8" cy="234.7" r="2.6" fill="#f05a5e"/>
<circle cx="572.4" cy="234.7" r="2.6" fill="#f05a5e"/>
<circle cx="574.0" cy="234.5" r="2.6" fill="#f05a5e"/>
<circle cx="575.6" cy="234.7" r="2.6" fill="#f05a5e"/>
<circle cx="577.2" cy="234.7" r="2.6" fill="#f05a5e"/>
<circle cx="578.7" cy="234.8" r="2.6" fill="#f05a5e"/>
<circle cx="580.3" cy="234.8" r="2.6" fill="#f05a5e"/>
<circle cx="581.9" cy="234.6" r="2.6" fill="#f05a5e"/>
<circle cx="583.5" cy="234.7" r="2.6" fill="#f05a5e"/>
<circle cx="585.1" cy="234.6" r="2.6" fill="#f05a5e"/>
<circle cx="586.7" cy="234.7" r="2.6" fill="#f05a5e"/>
<circle cx="588.3" cy="234.6" r="2.6" fill="#f05a5e"/>
<circle cx="589.9" cy="234.4" r="2.6" fill="#f05a5e"/>
<circle cx="591.4" cy="234.6" r="2.6" fill="#f05a5e"/>
<circle cx="593.0" cy="234.6" r="2.6" fill="#f05a5e"/>
<circle cx="594.6" cy="234.4" r="2.6" fill="#f05a5e"/>
<circle cx="596.2" cy="234.8" r="2.6" fill="#f05a5e"/>
<circle cx="597.8" cy="234.8" r="2.6" fill="#f05a5e"/>
<circle cx="599.4" cy="234.4" r="2.6" fill="#f05a5e"/>
<circle cx="601.0" cy="234.4" r="2.6" fill="#f05a5e"/>
<circle cx="602.6" cy="234.7" r="2.6" fill="#f05a5e"/>
<circle cx="604.1" cy="234.7" r="2.6" fill="#f05a5e"/>
<circle cx="605.7" cy="234.5" r="2.6" fill="#f05a5e"/>
<circle cx="607.3" cy="234.4" r="2.6" fill="#f05a5e"/>
<circle cx="608.9" cy="234.7" r="2.6" fill="#f05a5e"/>
<circle cx="610.5" cy="234.4" r="2.6" fill="#f05a5e"/>
<circle cx="612.1" cy="234.4" r="2.6" fill="#f05a5e"/>
<circle cx="613.7" cy="234.6" r="2.6" fill="#f05a5e"/>
<circle cx="615.3" cy="234.6" r="2.6" fill="#f05a5e"/>
<circle cx="623.2" cy="234.6" r="2.6" fill="#f05a5e"/>
<circle cx="631.1" cy="234.6" r="2.6" fill="#f05a5e"/>
<circle cx="639.1" cy="234.6" r="2.6" fill="#f05a5e"/>
<circle cx="647.0" cy="234.6" r="2.6" fill="#f05a5e"/>
<circle cx="655.0" cy="234.6" r="2.6" fill="#f05a5e"/>
<circle cx="662.9" cy="234.6" r="2.6" fill="#f05a5e"/>
<circle cx="670.8" cy="234.6" r="2.6" fill="#f05a5e"/>
<circle cx="678.8" cy="234.6" r="2.6" fill="#f05a5e"/>
<circle cx="686.7" cy="234.6" r="2.6" fill="#f05a5e"/>
<circle cx="694.7" cy="234.6" r="2.6" fill="#f05a5e"/>
<circle cx="702.6" cy="234.6" r="2.6" fill="#f05a5e"/>
<circle cx="710.5" cy="234.6" r="2.6" fill="#f05a5e"/>
<circle cx="718.5" cy="234.6" r="2.6" fill="#f05a5e"/>
<circle cx="726.4" cy="234.6" r="2.6" fill="#f05a5e"/>
<circle cx="734.4" cy="234.6" r="2.6" fill="#f05a5e"/>
<circle cx="742.3" cy="234.6" r="2.6" fill="#f05a5e"/>
</g>
<rect x="524" y="207" width="54" height="17" fill="#c48e2a"/>
<text x="551.0" y="220.3" font-size="14" fill="#2b1c08" font-weight="bold" letter-spacing="1.5" text-anchor="middle" >560.58</text>
<line x1="357" y1="453.4" x2="371" y2="453.4" stroke="#f05a5e" stroke-width="1.3"/>
<circle cx="364" cy="453.4" r="2.6" fill="#f05a5e"/>
<text x="374.6" y="458.2" font-size="13" fill="#f0f0f0" font-weight="normal" letter-spacing="1.25" text-anchor="start" >2025-03-11</text>
<line x1="456.5" y1="453.4" x2="471" y2="453.4" stroke="#5b5bf0" stroke-width="1.3"/>
<circle cx="463.8" cy="453.4" r="2.6" fill="#5b5bf0"/>
<text x="474.7" y="458.2" font-size="13" fill="#f0f0f0" font-weight="normal" letter-spacing="1.25" text-anchor="start" >2025-03-14</text>
<line x1="935.3" y1="203" x2="935.3" y2="391" stroke="#242a35" stroke-width="1" stroke-dasharray="2,1.7"/>
<line x1="1011.8" y1="203" x2="1011.8" y2="391" stroke="#242a35" stroke-width="1" stroke-dasharray="2,1.7"/>
<line x1="1088.3" y1="203" x2="1088.3" y2="391" stroke="#242a35" stroke-width="1" stroke-dasharray="2,1.7"/>
<line x1="1164.8" y1="203" x2="1164.8" y2="391" stroke="#242a35" stroke-width="1" stroke-dasharray="2,1.7"/>
<line x1="1241.3" y1="203" x2="1241.3" y2="391" stroke="#242a35" stroke-width="1" stroke-dasharray="2,1.7"/>
<line x1="1317.8" y1="203" x2="1317.8" y2="391" stroke="#242a35" stroke-width="1" stroke-dasharray="2,1.7"/>
<line x1="1394.3" y1="203" x2="1394.3" y2="391" stroke="#242a35" stroke-width="1" stroke-dasharray="2,1.7"/>
<line x1="870.7" y1="217.3" x2="1419.2" y2="217.3" stroke="#242a35" stroke-width="1" stroke-dasharray="2,1.7"/>
<line x1="870.7" y1="238.6" x2="1419.2" y2="238.6" stroke="#242a35" stroke-width="1" stroke-dasharray="2,1.7"/>
<line x1="870.7" y1="260.0" x2="1419.2" y2="260.0" stroke="#242a35" stroke-width="1" stroke-dasharray="2,1.7"/>
<line x1="870.7" y1="281.3" x2="1419.2" y2="281.3" stroke="#242a35" stroke-width="1" stroke-dasharray="2,1.7"/>
<line x1="870.7" y1="302.6" x2="1419.2" y2="302.6" stroke="#242a35" stroke-width="1" stroke-dasharray="2,1.7"/>
<line x1="870.7" y1="324.0" x2="1419.2" y2="324.0" stroke="#242a35" stroke-width="1" stroke-dasharray="2,1.7"/>
<line x1="870.7" y1="345.3" x2="1419.2" y2="345.3" stroke="#242a35" stroke-width="1" stroke-dasharray="2,1.7"/>
<line x1="870.7" y1="366.6" x2="1419.2" y2="366.6" stroke="#242a35" stroke-width="1" stroke-dasharray="2,1.7"/>
<line x1="870.7" y1="388.0" x2="1419.2" y2="388.0" stroke="#242a35" stroke-width="1" stroke-dasharray="2,1.7"/>
<line x1="869.7" y1="203" x2="869.7" y2="391" stroke="#8a9099" stroke-width="1"/>
<line x1="873" y1="394.5" x2="1419.2" y2="394.5" stroke="#8a9099" stroke-width="1"/>
<line x1="866.7" y1="217.3" x2="869.7" y2="217.3" stroke="#8a9099" stroke-width="1"/>
<text x="863.2" y="221.9" font-size="13" fill="#c8c8c8" font-weight="normal" letter-spacing="1.0" text-anchor="end" stroke="#c8c8c8" stroke-width="0.25">30,000</text>
<line x1="866.7" y1="238.6" x2="869.7" y2="238.6" stroke="#8a9099" stroke-width="1"/>
<text x="863.2" y="243.2" font-size="13" fill="#c8c8c8" font-weight="normal" letter-spacing="1.0" text-anchor="end" stroke="#c8c8c8" stroke-width="0.25">25,000</text>
<line x1="866.7" y1="260.0" x2="869.7" y2="260.0" stroke="#8a9099" stroke-width="1"/>
<text x="863.2" y="264.6" font-size="13" fill="#c8c8c8" font-weight="normal" letter-spacing="1.0" text-anchor="end" stroke="#c8c8c8" stroke-width="0.25">20,000</text>
<line x1="866.7" y1="281.3" x2="869.7" y2="281.3" stroke="#8a9099" stroke-width="1"/>
<text x="863.2" y="285.9" font-size="13" fill="#c8c8c8" font-weight="normal" letter-spacing="1.0" text-anchor="end" stroke="#c8c8c8" stroke-width="0.25">15,000</text>
<line x1="866.7" y1="302.6" x2="869.7" y2="302.6" stroke="#8a9099" stroke-width="1"/>
<text x="863.2" y="307.2" font-size="13" fill="#c8c8c8" font-weight="normal" letter-spacing="1.0" text-anchor="end" stroke="#c8c8c8" stroke-width="0.25">10,000</text>
<line x1="866.7" y1="324.0" x2="869.7" y2="324.0" stroke="#8a9099" stroke-width="1"/>
<text x="863.2" y="328.6" font-size="13" fill="#c8c8c8" font-weight="normal" letter-spacing="1.0" text-anchor="end" stroke="#c8c8c8" stroke-width="0.25">5,000</text>
<line x1="866.7" y1="345.3" x2="869.7" y2="345.3" stroke="#8a9099" stroke-width="1"/>
<text x="863.2" y="349.9" font-size="13" fill="#c8c8c8" font-weight="normal" letter-spacing="1.0" text-anchor="end" stroke="#c8c8c8" stroke-width="0.25">0</text>
<line x1="866.7" y1="366.6" x2="869.7" y2="366.6" stroke="#8a9099" stroke-width="1"/>
<text x="863.2" y="371.2" font-size="13" fill="#c8c8c8" font-weight="normal" letter-spacing="1.0" text-anchor="end" stroke="#c8c8c8" stroke-width="0.25">-<tspan dx="1.6">5,000</tspan></text>
<line x1="866.7" y1="388.0" x2="869.7" y2="388.0" stroke="#8a9099" stroke-width="1"/>
<text x="863.2" y="392.6" font-size="13" fill="#c8c8c8" font-weight="normal" letter-spacing="1.0" text-anchor="end" stroke="#c8c8c8" stroke-width="0.25">-<tspan dx="1.6">10,000</tspan></text>
<line x1="935.3" y1="394.5" x2="935.3" y2="397.5" stroke="#8a9099" stroke-width="1"/>
<text x="936.1" y="413.0" font-size="13" fill="#c8c8c8" font-weight="normal" letter-spacing="0.9" text-anchor="middle" stroke="#c8c8c8" stroke-width="0.25">400</text>
<line x1="1011.8" y1="394.5" x2="1011.8" y2="397.5" stroke="#8a9099" stroke-width="1"/>
<text x="1012.6" y="413.0" font-size="13" fill="#c8c8c8" font-weight="normal" letter-spacing="0.9" text-anchor="middle" stroke="#c8c8c8" stroke-width="0.25">450</text>
<line x1="1088.3" y1="394.5" x2="1088.3" y2="397.5" stroke="#8a9099" stroke-width="1"/>
<text x="1089.1" y="413.0" font-size="13" fill="#c8c8c8" font-weight="normal" letter-spacing="0.9" text-anchor="middle" stroke="#c8c8c8" stroke-width="0.25">500</text>
<line x1="1164.8" y1="394.5" x2="1164.8" y2="397.5" stroke="#8a9099" stroke-width="1"/>
<text x="1165.6" y="413.0" font-size="13" fill="#c8c8c8" font-weight="normal" letter-spacing="0.9" text-anchor="middle" stroke="#c8c8c8" stroke-width="0.25">550</text>
<line x1="1241.3" y1="394.5" x2="1241.3" y2="397.5" stroke="#8a9099" stroke-width="1"/>
<text x="1242.1" y="413.0" font-size="13" fill="#c8c8c8" font-weight="normal" letter-spacing="0.9" text-anchor="middle" stroke="#c8c8c8" stroke-width="0.25">600</text>
<line x1="1317.8" y1="394.5" x2="1317.8" y2="397.5" stroke="#8a9099" stroke-width="1"/>
<text x="1318.6" y="413.0" font-size="13" fill="#c8c8c8" font-weight="normal" letter-spacing="0.9" text-anchor="middle" stroke="#c8c8c8" stroke-width="0.25">650</text>
<line x1="1394.3" y1="394.5" x2="1394.3" y2="397.5" stroke="#8a9099" stroke-width="1"/>
<text x="1395.1" y="413.0" font-size="13" fill="#c8c8c8" font-weight="normal" letter-spacing="0.9" text-anchor="middle" stroke="#c8c8c8" stroke-width="0.25">700</text>
<text x="1104.5" y="189.3" font-size="17" fill="#e8a33a" font-weight="bold" letter-spacing="0" text-anchor="middle" >Vanna Exposure</text>
<text x="0" y="0" font-size="13" fill="#c8c8c8" letter-spacing="1.25" text-anchor="middle" transform="translate(804,297) rotate(-90)">Vanna Exposure</text>
<text x="1145.0" y="431.5" font-size="13" fill="#c8c8c8" font-weight="normal" letter-spacing="1.2" text-anchor="middle" >Strike</text>
<circle cx="793" cy="160" r="7.3" fill="none" stroke="#e8a33a" stroke-width="1.5"/>
<rect x="792.1" y="157.5" width="1.9" height="6" fill="#e8a33a"/><rect x="792" y="154.5" width="2" height="1.8" fill="#e8a33a"/><rect x="790.5" y="162.6" width="5" height="1.3" fill="#e8a33a"/>
<text x="806.0" y="164.5" font-size="12" fill="#e8a33a" font-weight="normal" letter-spacing="0" text-anchor="start" >Info</text>
<clipPath id="cv"><rect x="870.7" y="203" width="549.5" height="191.5"/></clipPath>
<g clip-path="url(#cv)">
<line x1="1181.0" y1="203" x2="1181.0" y2="391" stroke="#5e4a2c" stroke-width="1"/>
<path d="M897.0,345.3 L898.3,345.3 L899.6,345.3 L900.9,345.3 L902.1,345.3 L903.4,345.3 L904.7,345.3 L906.0,345.3 L907.2,345.3 L908.5,345.3 L909.8,345.3 L911.1,345.3 L912.3,345.3 L913.6,345.3 L914.9,345.3 L916.2,345.3 L917.4,345.3 L918.7,345.3 L920.0,345.3 L921.3,345.3 L922.5,345.3 L923.8,345.3 L925.1,345.3 L926.4,345.3 L927.6,345.3 L928.9,345.3 L930.2,345.3 L931.5,345.3 L932.7,345.3 L934.0,345.3 L935.3,345.3 L936.6,345.3 L937.9,345.3 L939.1,345.3 L940.4,345.3 L941.7,345.3 L942.9,345.3 L944.2,345.3 L945.5,345.3 L946.8,345.3 L948.0,345.3 L949.3,345.3 L950.6,345.3 L951.9,345.3 L953.1,345.4 L954.4,345.4 L955.7,345.4 L957.0,345.4 L958.2,345.3 L959.5,345.1 L960.8,345.0 L962.1,344.9 L963.3,344.8 L964.6,345.0 L965.9,345.3 L967.2,345.9 L968.4,346.5 L969.7,347.0 L971.0,347.1 L972.3,346.6 L973.5,345.3 L974.8,343.1 L976.1,340.4 L977.4,337.7 L978.6,335.3 L979.9,333.8 L981.2,333.7 L982.5,335.2 L983.8,337.8 L985.0,340.8 L986.3,343.6 L987.6,345.3 L988.8,345.3 L990.1,343.2 L991.4,339.4 L992.7,335.0 L993.9,330.7 L995.2,327.3 L996.5,325.7 L997.8,326.5 L999.0,329.2 L1000.3,333.1 L1001.6,337.6 L1002.9,341.9 L1004.1,345.3 L1005.4,347.3 L1006.7,348.1 L1008.0,347.9 L1009.2,347.2 L1010.5,346.2 L1011.8,345.3 L1013.1,344.8 L1014.4,344.6 L1015.6,344.6 L1016.9,344.8 L1018.2,345.1 L1019.4,345.3 L1020.7,345.4 L1022.0,345.4 L1023.3,345.3 L1024.5,345.3 L1025.8,345.2 L1027.1,345.3 L1028.4,345.5 L1029.7,345.7 L1030.9,345.9 L1032.2,345.9 L1033.5,345.8 L1034.8,345.3 L1036.0,344.5 L1037.3,343.6 L1038.6,343.0 L1039.8,342.8 L1041.1,343.5 L1042.4,345.3 L1043.7,348.3 L1045.0,351.5 L1046.2,354.0 L1047.5,354.5 L1048.8,352.0 L1050.0,345.3 L1051.3,333.9 L1052.6,319.7 L1053.9,304.8 L1055.1,291.8 L1056.4,283.0 L1057.7,280.7 L1059.0,286.4 L1060.2,298.1 L1061.5,312.8 L1062.8,327.5 L1064.1,339.3 L1065.3,345.3 L1065.9,345.5 L1066.4,345.1 L1066.9,344.8 L1067.4,345.0 L1067.9,345.3 L1068.4,345.0 L1068.9,343.9 L1069.4,343.5 L1069.9,345.7 L1070.4,351.1 L1071.0,353.0 L1071.5,343.6 L1072.0,318.8 L1072.5,291.6 L1073.0,279.0 L1073.5,292.4 L1074.0,320.1 L1074.5,344.7 L1075.0,352.9 L1075.5,349.5 L1076.1,343.5 L1076.6,341.8 L1077.1,343.6 L1077.6,345.9 L1078.1,346.5 L1078.6,345.6 L1079.1,344.5 L1079.6,343.9 L1080.1,343.9 L1080.6,344.3 L1081.2,345.0 L1081.7,345.6 L1082.2,346.0 L1082.7,346.0 L1083.2,345.6 L1083.7,345.0 L1084.2,344.4 L1084.7,344.0 L1085.2,344.1 L1085.8,344.7 L1086.3,345.3 L1086.8,344.8 L1087.3,342.7 L1087.8,339.7 L1088.3,336.6 L1089.6,332.1 L1090.8,331.8 L1092.1,334.3 L1093.4,338.3 L1094.7,342.6 L1096.0,345.7 L1097.2,346.7 L1098.5,345.9 L1099.8,344.2 L1101.0,342.2 L1102.3,340.7 L1103.6,340.4 L1104.9,341.8 L1106.2,344.2 L1107.4,346.7 L1108.7,348.4 L1110.0,348.4 L1111.2,345.8 L1111.8,343.9 L1112.3,341.6 L1112.8,339.1 L1113.8,334.3 L1114.8,330.3 L1115.8,327.6 L1116.9,326.8 L1117.9,328.6 L1118.9,333.4 L1119.4,337.0 L1119.9,340.6 L1120.4,343.4 L1120.9,344.7 L1121.4,344.8 L1122.0,344.4 L1122.5,344.0 L1123.0,343.8 L1123.5,343.8 L1124.0,344.3 L1124.5,344.8 L1125.0,345.0 L1125.5,344.7 L1126.0,344.2 L1126.5,343.9 L1127.1,344.2 L1127.6,344.9 L1128.1,345.8 L1128.6,346.7 L1129.1,346.7 L1129.6,345.3 L1130.1,342.3 L1130.6,340.8 L1131.1,344.1 L1131.7,353.3 L1132.2,357.7 L1132.7,344.0 L1133.2,305.6 L1133.7,262.9 L1134.2,243.0 L1134.7,263.8 L1135.2,307.1 L1135.7,345.9 L1136.2,359.6 L1136.8,355.0 L1137.3,345.4 L1137.8,341.5 L1138.3,342.7 L1138.8,345.5 L1139.3,347.2 L1139.8,347.2 L1140.3,345.3 L1140.8,341.9 L1141.3,338.6 L1141.8,337.1 L1142.4,338.8 L1142.9,342.3 L1143.4,345.6 L1143.9,347.0 L1144.4,346.3 L1144.9,343.5 L1145.4,339.5 L1145.9,338.1 L1146.4,343.5 L1147.0,356.7 L1147.5,363.5 L1148.0,346.0 L1148.5,295.4 L1149.0,238.6 L1149.5,211.4 L1150.0,237.7 L1150.5,293.9 L1151.0,344.7 L1151.5,363.2 L1152.0,357.9 L1152.6,346.1 L1153.1,341.2 L1153.6,342.3 L1154.1,344.9 L1154.6,345.4 L1155.1,344.3 L1155.6,343.4 L1156.1,343.9 L1156.6,345.0 L1157.1,345.8 L1157.7,345.6 L1158.2,344.8 L1158.7,344.4 L1159.2,344.8 L1159.7,345.5 L1160.2,345.8 L1160.7,345.2 L1161.2,344.4 L1161.7,344.4 L1162.2,345.6 L1162.8,346.1 L1163.3,343.5 L1163.8,336.5 L1164.3,328.8 L1164.8,325.5 L1165.3,329.9 L1165.8,338.4 L1166.3,346.1 L1166.8,349.0 L1167.3,348.2 L1167.9,345.9 L1168.4,344.1 L1168.9,343.4 L1169.4,344.5 L1169.9,347.2 L1170.4,348.8 L1170.9,346.1 L1171.4,337.4 L1171.9,327.4 L1172.5,322.5 L1173.0,326.9 L1173.5,336.3 L1174.0,344.7 L1174.5,347.2 L1175.0,345.7 L1175.5,343.4 L1176.0,343.0 L1176.5,343.9 L1177.0,344.9 L1177.5,345.1 L1178.1,344.8 L1178.6,345.0 L1179.1,346.1 L1179.6,347.9 L1180.1,350.2 L1180.6,352.5 L1181.1,354.1 L1181.6,354.4 L1182.1,353.1 L1182.6,351.4 L1183.2,350.7 L1183.7,351.8 L1184.2,353.5 L1184.7,353.8 L1185.2,351.7 L1185.7,349.5 L1186.2,350.4 L1186.7,356.4 L1187.2,363.9 L1187.8,368.4 L1188.3,366.5 L1188.8,360.7 L1189.3,354.7 L1189.8,351.6 L1190.3,350.7 L1190.8,350.9 L1191.3,350.8 L1191.8,350.5 L1192.3,350.5 L1192.8,350.9 L1193.4,352.0 L1193.9,354.0 L1194.4,356.7 L1194.9,358.9 L1195.4,359.0 L1195.9,356.1 L1196.4,351.6 L1196.9,347.5 L1197.4,345.5 L1197.9,345.6 L1198.5,347.4 L1199.0,350.5 L1199.5,353.3 L1200.0,354.2 L1200.5,352.3 L1201.0,349.9 L1201.5,349.7 L1202.0,353.6 L1202.5,359.0 L1203.0,362.6 L1203.6,361.6 L1204.1,357.7 L1204.6,353.3 L1205.1,350.4 L1205.6,349.5 L1206.1,350.4 L1206.6,352.7 L1207.1,354.9 L1207.6,354.8 L1208.2,351.7 L1208.7,349.3 L1209.2,352.3 L1209.7,363.4 L1210.2,376.3 L1210.7,382.4 L1211.2,376.2 L1211.7,362.9 L1212.2,350.6 L1212.7,345.5 L1213.2,346.2 L1213.8,349.2 L1214.3,351.7 L1214.8,353.4 L1215.3,354.4 L1215.8,355.0 L1216.3,354.5 L1216.8,352.4 L1217.3,348.7 L1217.8,344.5 L1218.3,341.6 L1218.9,341.2 L1219.4,342.6 L1219.9,344.4 L1220.4,345.7 L1220.9,346.1 L1221.4,345.8 L1221.9,345.0 L1222.4,344.8 L1222.9,346.3 L1223.5,350.1 L1224.0,353.7 L1224.5,353.8 L1225.0,348.6 L1225.5,341.6 L1226.0,337.8 L1226.5,340.4 L1227.0,346.1 L1227.5,350.2 L1228.0,349.2 L1228.5,345.4 L1229.1,342.2 L1229.6,342.5 L1230.1,344.9 L1230.6,347.1 L1231.1,347.4 L1231.6,346.6 L1232.1,346.0 L1232.6,346.5 L1233.1,347.6 L1233.7,348.2 L1234.2,347.8 L1234.7,346.8 L1235.2,345.9 L1235.7,345.6 L1236.2,346.1 L1236.7,347.1 L1237.2,348.5 L1237.7,349.6 L1238.2,349.5 L1238.8,347.8 L1239.3,345.5 L1239.8,344.0 L1240.3,344.1 L1240.8,345.1 L1241.3,345.9 L1241.8,345.6 L1242.3,344.7 L1242.8,344.1 L1243.3,344.6 L1243.8,345.5 L1244.4,346.1 L1244.9,345.8 L1245.4,345.0 L1245.9,344.2 L1246.4,343.8 L1246.9,343.8 L1247.4,344.1 L1247.9,344.5 L1248.4,344.8 L1248.9,344.9 L1249.5,344.7 L1250.0,344.4 L1250.5,344.3 L1251.0,344.7 L1251.5,345.3 L1252.0,345.5 L1252.5,345.2 L1253.0,344.7 L1253.5,344.3 L1254.0,344.3 L1254.6,344.6 L1255.1,345.1 L1255.6,345.5 L1256.1,345.7 L1256.6,345.6 L1257.1,344.9 L1257.6,344.1 L1258.1,343.7 L1258.6,343.9 L1259.1,344.5 L1259.7,345.1 L1260.2,345.5 L1260.7,345.5 L1261.2,345.2 L1261.7,344.7 L1262.2,344.1 L1262.7,344.0 L1263.2,344.3 L1263.7,344.9 L1264.2,345.2 L1264.8,345.0 L1265.3,344.6 L1265.8,344.4 L1266.3,344.9 L1266.8,345.5 L1267.3,345.7 L1267.8,345.3 L1268.3,344.5 L1268.8,344.0 L1269.3,344.2 L1269.9,344.8 L1270.4,345.5 L1270.9,345.9 L1271.4,346.0 L1271.9,346.0 L1272.5,346.0 L1273.2,345.8 L1273.8,345.7 L1274.4,345.6 L1275.1,345.4 L1275.7,345.3 L1277.0,345.1 L1278.3,345.1 L1279.5,345.1 L1280.8,345.1 L1282.1,345.2 L1283.4,345.3 L1284.7,345.3 L1285.9,345.4 L1287.2,345.4 L1288.5,345.4 L1289.8,345.3 L1291.0,345.3" fill="none" stroke="#5b5bf0" stroke-width="1.0" stroke-linejoin="round"/>
<circle cx="897.0" cy="345.3" r="2.6" fill="#5b5bf0"/>
<circle cx="904.7" cy="345.3" r="2.6" fill="#5b5bf0"/>
<circle cx="912.3" cy="345.3" r="2.6" fill="#5b5bf0"/>
<circle cx="920.0" cy="345.3" r="2.6" fill="#5b5bf0"/>
<circle cx="927.6" cy="345.3" r="2.6" fill="#5b5bf0"/>
<circle cx="935.3" cy="345.3" r="2.6" fill="#5b5bf0"/>
<circle cx="942.9" cy="345.3" r="2.6" fill="#5b5bf0"/>
<circle cx="950.6" cy="345.3" r="2.6" fill="#5b5bf0"/>
<circle cx="958.2" cy="345.3" r="2.6" fill="#5b5bf0"/>
<circle cx="965.9" cy="345.3" r="2.6" fill="#5b5bf0"/>
<circle cx="973.5" cy="345.3" r="2.6" fill="#5b5bf0"/>
<circle cx="981.2" cy="333.7" r="2.6" fill="#5b5bf0"/>
<circle cx="988.8" cy="345.3" r="2.6" fill="#5b5bf0"/>
<circle cx="996.5" cy="325.7" r="2.6" fill="#5b5bf0"/>
<circle cx="1004.1" cy="345.3" r="2.6" fill="#5b5bf0"/>
<circle cx="1011.8" cy="345.3" r="2.6" fill="#5b5bf0"/>
<circle cx="1019.4" cy="345.3" r="2.6" fill="#5b5bf0"/>
<circle cx="1027.1" cy="345.3" r="2.6" fill="#5b5bf0"/>
<circle cx="1034.8" cy="345.3" r="2.6" fill="#5b5bf0"/>
<circle cx="1042.4" cy="345.3" r="2.6" fill="#5b5bf0"/>
<circle cx="1050.0" cy="345.3" r="2.6" fill="#5b5bf0"/>
<circle cx="1057.7" cy="280.7" r="2.6" fill="#5b5bf0"/>
<circle cx="1065.3" cy="345.3" r="2.6" fill="#5b5bf0"/>
<circle cx="1066.9" cy="344.8" r="2.6" fill="#5b5bf0"/>
<circle cx="1068.4" cy="345.0" r="2.6" fill="#5b5bf0"/>
<circle cx="1069.9" cy="345.7" r="2.6" fill="#5b5bf0"/>
<circle cx="1071.5" cy="343.6" r="2.6" fill="#5b5bf0"/>
<circle cx="1073.0" cy="279.0" r="2.6" fill="#5b5bf0"/>
<circle cx="1074.5" cy="344.7" r="2.6" fill="#5b5bf0"/>
<circle cx="1076.1" cy="343.5" r="2.6" fill="#5b5bf0"/>
<circle cx="1077.6" cy="345.9" r="2.6" fill="#5b5bf0"/>
<circle cx="1079.1" cy="344.5" r="2.6" fill="#5b5bf0"/>
<circle cx="1080.6" cy="344.3" r="2.6" fill="#5b5bf0"/>
<circle cx="1082.2" cy="346.0" r="2.6" fill="#5b5bf0"/>
<circle cx="1083.7" cy="345.0" r="2.6" fill="#5b5bf0"/>
<circle cx="1085.2" cy="344.1" r="2.6" fill="#5b5bf0"/>
<circle cx="1086.8" cy="344.8" r="2.6" fill="#5b5bf0"/>
<circle cx="1088.3" cy="336.6" r="2.6" fill="#5b5bf0"/>
<circle cx="1096.0" cy="345.7" r="2.6" fill="#5b5bf0"/>
<circle cx="1103.6" cy="340.4" r="2.6" fill="#5b5bf0"/>
<circle cx="1111.2" cy="345.8" r="2.6" fill="#5b5bf0"/>
<circle cx="1112.8" cy="339.1" r="2.6" fill="#5b5bf0"/>
<circle cx="1118.9" cy="333.4" r="2.6" fill="#5b5bf0"/>
<circle cx="1120.4" cy="343.4" r="2.6" fill="#5b5bf0"/>
<circle cx="1122.0" cy="344.4" r="2.6" fill="#5b5bf0"/>
<circle cx="1123.5" cy="343.8" r="2.6" fill="#5b5bf0"/>
<circle cx="1125.0" cy="345.0" r="2.6" fill="#5b5bf0"/>
<circle cx="1126.5" cy="343.9" r="2.6" fill="#5b5bf0"/>
<circle cx="1128.1" cy="345.8" r="2.6" fill="#5b5bf0"/>
<circle cx="1129.6" cy="345.3" r="2.6" fill="#5b5bf0"/>
<circle cx="1131.1" cy="344.1" r="2.6" fill="#5b5bf0"/>
<circle cx="1132.7" cy="344.0" r="2.6" fill="#5b5bf0"/>
<circle cx="1134.2" cy="243.0" r="2.6" fill="#5b5bf0"/>
<circle cx="1135.7" cy="345.9" r="2.6" fill="#5b5bf0"/>
<circle cx="1137.3" cy="345.4" r="2.6" fill="#5b5bf0"/>
<circle cx="1138.8" cy="345.5" r="2.6" fill="#5b5bf0"/>
<circle cx="1140.3" cy="345.3" r="2.6" fill="#5b5bf0"/>
<circle cx="1141.8" cy="337.1" r="2.6" fill="#5b5bf0"/>
<circle cx="1143.4" cy="345.6" r="2.6" fill="#5b5bf0"/>
<circle cx="1144.9" cy="343.5" r="2.6" fill="#5b5bf0"/>
<circle cx="1146.4" cy="343.5" r="2.6" fill="#5b5bf0"/>
<circle cx="1148.0" cy="346.0" r="2.6" fill="#5b5bf0"/>
<circle cx="1149.5" cy="211.4" r="2.6" fill="#5b5bf0"/>
<circle cx="1151.0" cy="344.7" r="2.6" fill="#5b5bf0"/>
<circle cx="1152.6" cy="346.1" r="2.6" fill="#5b5bf0"/>
<circle cx="1154.1" cy="344.9" r="2.6" fill="#5b5bf0"/>
<circle cx="1155.6" cy="343.4" r="2.6" fill="#5b5bf0"/>
<circle cx="1157.1" cy="345.8" r="2.6" fill="#5b5bf0"/>
<circle cx="1158.7" cy="344.4" r="2.6" fill="#5b5bf0"/>
<circle cx="1160.2" cy="345.8" r="2.6" fill="#5b5bf0"/>
<circle cx="1161.7" cy="344.4" r="2.6" fill="#5b5bf0"/>
<circle cx="1163.3" cy="343.5" r="2.6" fill="#5b5bf0"/>
<circle cx="1164.8" cy="325.5" r="2.6" fill="#5b5bf0"/>
<circle cx="1166.3" cy="346.1" r="2.6" fill="#5b5bf0"/>
<circle cx="1167.9" cy="345.9" r="2.6" fill="#5b5bf0"/>
<circle cx="1169.4" cy="344.5" r="2.6" fill="#5b5bf0"/>
<circle cx="1170.9" cy="346.1" r="2.6" fill="#5b5bf0"/>
<circle cx="1172.5" cy="322.5" r="2.6" fill="#5b5bf0"/>
<circle cx="1174.0" cy="344.7" r="2.6" fill="#5b5bf0"/>
<circle cx="1175.5" cy="343.4" r="2.6" fill="#5b5bf0"/>
<circle cx="1177.0" cy="344.9" r="2.6" fill="#5b5bf0"/>
<circle cx="1178.6" cy="345.0" r="2.6" fill="#5b5bf0"/>
<circle cx="1180.1" cy="350.2" r="2.6" fill="#5b5bf0"/>
<circle cx="1181.6" cy="354.4" r="2.6" fill="#5b5bf0"/>
<circle cx="1183.2" cy="350.7" r="2.6" fill="#5b5bf0"/>
<circle cx="1184.7" cy="353.8" r="2.6" fill="#5b5bf0"/>
<circle cx="1186.2" cy="350.4" r="2.6" fill="#5b5bf0"/>
<circle cx="1187.8" cy="368.4" r="2.6" fill="#5b5bf0"/>
<circle cx="1189.3" cy="354.7" r="2.6" fill="#5b5bf0"/>
<circle cx="1190.8" cy="350.9" r="2.6" fill="#5b5bf0"/>
<circle cx="1192.3" cy="350.5" r="2.6" fill="#5b5bf0"/>
<circle cx="1193.9" cy="354.0" r="2.6" fill="#5b5bf0"/>
<circle cx="1195.4" cy="359.0" r="2.6" fill="#5b5bf0"/>
<circle cx="1196.9" cy="347.5" r="2.6" fill="#5b5bf0"/>
<circle cx="1198.5" cy="347.4" r="2.6" fill="#5b5bf0"/>
<circle cx="1200.0" cy="354.2" r="2.6" fill="#5b5bf0"/>
<circle cx="1201.5" cy="349.7" r="2.6" fill="#5b5bf0"/>
<circle cx="1203.0" cy="362.6" r="2.6" fill="#5b5bf0"/>
<circle cx="1204.6" cy="353.3" r="2.6" fill="#5b5bf0"/>
<circle cx="1206.1" cy="350.4" r="2.6" fill="#5b5bf0"/>
<circle cx="1207.6" cy="354.8" r="2.6" fill="#5b5bf0"/>
<circle cx="1209.2" cy="352.3" r="2.6" fill="#5b5bf0"/>
<circle cx="1210.7" cy="382.4" r="2.6" fill="#5b5bf0"/>
<circle cx="1212.2" cy="350.6" r="2.6" fill="#5b5bf0"/>
<circle cx="1213.8" cy="349.2" r="2.6" fill="#5b5bf0"/>
<circle cx="1215.3" cy="354.4" r="2.6" fill="#5b5bf0"/>
<circle cx="1216.8" cy="352.4" r="2.6" fill="#5b5bf0"/>
<circle cx="1218.3" cy="341.6" r="2.6" fill="#5b5bf0"/>
<circle cx="1219.9" cy="344.4" r="2.6" fill="#5b5bf0"/>
<circle cx="1221.4" cy="345.8" r="2.6" fill="#5b5bf0"/>
<circle cx="1222.9" cy="346.3" r="2.6" fill="#5b5bf0"/>
<circle cx="1224.5" cy="353.8" r="2.6" fill="#5b5bf0"/>
<circle cx="1226.0" cy="337.8" r="2.6" fill="#5b5bf0"/>
<circle cx="1227.5" cy="350.2" r="2.6" fill="#5b5bf0"/>
<circle cx="1229.1" cy="342.2" r="2.6" fill="#5b5bf0"/>
<circle cx="1230.6" cy="347.1" r="2.6" fill="#5b5bf0"/>
<circle cx="1232.1" cy="346.0" r="2.6" fill="#5b5bf0"/>
<circle cx="1233.7" cy="348.2" r="2.6" fill="#5b5bf0"/>
<circle cx="1235.2" cy="345.9" r="2.6" fill="#5b5bf0"/>
<circle cx="1236.7" cy="347.1" r="2.6" fill="#5b5bf0"/>
<circle cx="1238.2" cy="349.5" r="2.6" fill="#5b5bf0"/>
<circle cx="1239.8" cy="344.0" r="2.6" fill="#5b5bf0"/>
<circle cx="1241.3" cy="345.9" r="2.6" fill="#5b5bf0"/>
<circle cx="1242.8" cy="344.1" r="2.6" fill="#5b5bf0"/>
<circle cx="1244.4" cy="346.1" r="2.6" fill="#5b5bf0"/>
<circle cx="1245.9" cy="344.2" r="2.6" fill="#5b5bf0"/>
<circle cx="1247.4" cy="344.1" r="2.6" fill="#5b5bf0"/>
<circle cx="1248.9" cy="344.9" r="2.6" fill="#5b5bf0"/>
<circle cx="1250.5" cy="344.3" r="2.6" fill="#5b5bf0"/>
<circle cx="1252.0" cy="345.5" r="2.6" fill="#5b5bf0"/>
<circle cx="1253.5" cy="344.3" r="2.6" fill="#5b5bf0"/>
<circle cx="1255.1" cy="345.1" r="2.6" fill="#5b5bf0"/>
<circle cx="1256.6" cy="345.6" r="2.6" fill="#5b5bf0"/>
<circle cx="1258.1" cy="343.7" r="2.6" fill="#5b5bf0"/>
<circle cx="1259.7" cy="345.1" r="2.6" fill="#5b5bf0"/>
<circle cx="1261.2" cy="345.2" r="2.6" fill="#5b5bf0"/>
<circle cx="1262.7" cy="344.0" r="2.6" fill="#5b5bf0"/>
<circle cx="1264.2" cy="345.2" r="2.6" fill="#5b5bf0"/>
<circle cx="1265.8" cy="344.4" r="2.6" fill="#5b5bf0"/>
<circle cx="1267.3" cy="345.7" r="2.6" fill="#5b5bf0"/>
<circle cx="1268.8" cy="344.0" r="2.6" fill="#5b5bf0"/>
<circle cx="1270.4" cy="345.5" r="2.6" fill="#5b5bf0"/>
<circle cx="1271.9" cy="346.0" r="2.6" fill="#5b5bf0"/>
<circle cx="1275.7" cy="345.3" r="2.6" fill="#5b5bf0"/>
<circle cx="1283.4" cy="345.3" r="2.6" fill="#5b5bf0"/>
<circle cx="1291.0" cy="345.3" r="2.6" fill="#5b5bf0"/>
<path d="M935.3,345.3 L942.9,345.3 L950.6,345.3 L958.2,345.3 L965.9,345.3 L973.5,345.3 L981.2,345.3 L988.8,345.3 L996.5,345.3 L1004.1,345.3 L1011.8,345.3 L1019.4,345.3 L1027.1,345.3 L1034.8,345.3 L1042.4,345.3 L1050.0,345.3 L1057.7,345.3 L1065.3,345.3 L1066.9,345.5 L1068.4,345.3 L1069.9,345.4 L1071.5,345.2 L1073.0,345.2 L1074.5,345.6 L1076.1,345.6 L1077.6,345.1 L1079.1,345.5 L1080.6,345.5 L1082.2,345.0 L1083.7,345.3 L1085.2,345.1 L1086.8,345.3 L1088.3,345.2 L1096.0,345.5 L1103.6,345.2 L1111.2,345.0 L1118.9,345.3 L1120.4,345.1 L1122.0,345.2 L1123.5,345.6 L1125.0,345.1 L1126.5,345.2 L1128.1,345.4 L1129.6,345.6 L1131.1,345.1 L1132.7,345.3 L1134.2,345.2 L1135.7,345.0 L1137.3,345.2 L1138.8,345.0 L1140.3,345.4 L1141.8,345.1 L1143.4,345.3 L1144.9,345.0 L1146.4,345.0 L1148.0,345.6 L1149.5,346.1 L1151.0,345.9 L1152.6,344.3 L1154.1,345.4 L1155.6,345.0 L1157.1,350.8 L1158.7,345.3 L1160.2,345.5 L1161.7,345.6 L1163.3,345.1 L1164.8,350.3 L1166.3,344.4 L1167.9,344.9 L1169.4,344.4 L1170.9,344.5 L1172.5,344.3 L1174.0,344.9 L1175.5,346.0 L1177.0,344.5 L1178.6,344.3 L1180.1,344.4 L1181.6,345.2 L1183.2,344.8 L1184.7,342.3 L1186.2,344.6 L1187.8,341.5 L1189.3,345.8 L1190.8,343.2 L1192.3,344.5 L1193.9,344.3 L1195.4,348.3 L1196.9,344.7 L1198.5,347.9 L1200.0,346.0 L1201.5,345.7 L1203.0,344.7 L1204.6,344.5 L1206.1,346.3 L1207.6,345.1 L1209.2,346.3 L1210.7,344.8 L1212.2,345.4 L1213.8,345.0 L1215.3,345.0 L1216.8,345.3 L1218.3,345.0 L1219.9,345.4 L1221.4,345.6 L1222.9,345.2 L1224.5,345.6 L1226.0,345.5 L1227.5,345.4 L1229.1,345.2 L1230.6,345.5 L1232.1,345.6 L1233.7,345.0 L1235.2,345.4 L1236.7,345.0 L1238.2,345.0 L1239.8,345.4 L1241.3,345.3 L1242.8,345.3 L1244.4,345.2 L1245.9,345.2 L1247.4,345.3 L1248.9,345.2 L1250.5,345.0 L1252.0,345.3 L1253.5,345.3 L1255.1,345.1 L1256.6,345.5 L1258.1,345.4 L1259.7,345.0 L1261.2,345.3 L1262.7,345.3 L1264.2,345.6 L1265.8,345.4 L1267.3,345.2 L1268.8,345.6 L1270.4,345.2 L1271.9,345.2 L1279.5,345.3 L1287.2,345.3 L1294.8,345.3 L1302.5,345.3 L1310.2,345.3 L1317.8,345.3 L1325.4,345.3 L1333.1,345.3 L1340.8,345.3 L1348.4,345.3 L1356.0,345.3 L1363.7,345.3 L1371.3,345.3 L1379.0,345.3 L1386.7,345.3 L1394.3,345.3" fill="none" stroke="#f05a5e" stroke-width="1.0" stroke-linejoin="round"/>
<circle cx="935.3" cy="345.3" r="2.6" fill="#f05a5e"/>
<circle cx="942.9" cy="345.3" r="2.6" fill="#f05a5e"/>
<circle cx="950.6" cy="345.3" r="2.6" fill="#f05a5e"/>
<circle cx="958.2" cy="345.3" r="2.6" fill="#f05a5e"/>
<circle cx="965.9" cy="345.3" r="2.6" fill="#f05a5e"/>
<circle cx="973.5" cy="345.3" r="2.6" fill="#f05a5e"/>
<circle cx="981.2" cy="345.3" r="2.6" fill="#f05a5e"/>
<circle cx="988.8" cy="345.3" r="2.6" fill="#f05a5e"/>
<circle cx="996.5" cy="345.3" r="2.6" fill="#f05a5e"/>
<circle cx="1004.1" cy="345.3" r="2.6" fill="#f05a5e"/>
<circle cx="1011.8" cy="345.3" r="2.6" fill="#f05a5e"/>
<circle cx="1019.4" cy="345.3" r="2.6" fill="#f05a5e"/>
<circle cx="1027.1" cy="345.3" r="2.6" fill="#f05a5e"/>
<circle cx="1034.8" cy="345.3" r="2.6" fill="#f05a5e"/>
<circle cx="1042.4" cy="345.3" r="2.6" fill="#f05a5e"/>
<circle cx="1050.0" cy="345.3" r="2.6" fill="#f05a5e"/>
<circle cx="1057.7" cy="345.3" r="2.6" fill="#f05a5e"/>
<circle cx="1065.3" cy="345.3" r="2.6" fill="#f05a5e"/>
<circle cx="1066.9" cy="345.5" r="2.6" fill="#f05a5e"/>
<circle cx="1068.4" cy="345.3" r="2.6" fill="#f05a5e"/>
<circle cx="1069.9" cy="345.4" r="2.6" fill="#f05a5e"/>
<circle cx="1071.5" cy="345.2" r="2.6" fill="#f05a5e"/>
<circle cx="1073.0" cy="345.2" r="2.6" fill="#f05a5e"/>
<circle cx="1074.5" cy="345.6" r="2.6" fill="#f05a5e"/>
<circle cx="1076.1" cy="345.6" r="2.6" fill="#f05a5e"/>
<circle cx="1077.6" cy="345.1" r="2.6" fill="#f05a5e"/>
<circle cx="1079.1" cy="345.5" r="2.6" fill="#f05a5e"/>
<circle cx="1080.6" cy="345.5" r="2.6" fill="#f05a5e"/>
<circle cx="1082.2" cy="345.0" r="2.6" fill="#f05a5e"/>
<circle cx="1083.7" cy="345.3" r="2.6" fill="#f05a5e"/>
<circle cx="1085.2" cy="345.1" r="2.6" fill="#f05a5e"/>
<circle cx="1086.8" cy="345.3" r="2.6" fill="#f05a5e"/>
<circle cx="1088.3" cy="345.2" r="2.6" fill="#f05a5e"/>
<circle cx="1096.0" cy="345.5" r="2.6" fill="#f05a5e"/>
<circle cx="1103.6" cy="345.2" r="2.6" fill="#f05a5e"/>
<circle cx="1111.2" cy="345.0" r="2.6" fill="#f05a5e"/>
<circle cx="1118.9" cy="345.3" r="2.6" fill="#f05a5e"/>
<circle cx="1120.4" cy="345.1" r="2.6" fill="#f05a5e"/>
<circle cx="1122.0" cy="345.2" r="2.6" fill="#f05a5e"/>
<circle cx="1123.5" cy="345.6" r="2.6" fill="#f05a5e"/>
<circle cx="1125.0" cy="345.1" r="2.6" fill="#f05a5e"/>
<circle cx="1126.5" cy="345.2" r="2.6" fill="#f05a5e"/>
<circle cx="1128.1" cy="345.4" r="2.6" fill="#f05a5e"/>
<circle cx="1129.6" cy="345.6" r="2.6" fill="#f05a5e"/>
<circle cx="1131.1" cy="345.1" r="2.6" fill="#f05a5e"/>
<circle cx="1132.7" cy="345.3" r="2.6" fill="#f05a5e"/>
<circle cx="1134.2" cy="345.2" r="2.6" fill="#f05a5e"/>
<circle cx="1135.7" cy="345.0" r="2.6" fill="#f05a5e"/>
<circle cx="1137.3" cy="345.2" r="2.6" fill="#f05a5e"/>
<circle cx="1138.8" cy="345.0" r="2.6" fill="#f05a5e"/>
<circle cx="1140.3" cy="345.4" r="2.6" fill="#f05a5e"/>
<circle cx="1141.8" cy="345.1" r="2.6" fill="#f05a5e"/>
<circle cx="1143.4" cy="345.3" r="2.6" fill="#f05a5e"/>
<circle cx="1144.9" cy="345.0" r="2.6" fill="#f05a5e"/>
<circle cx="1146.4" cy="345.0" r="2.6" fill="#f05a5e"/>
<circle cx="1148.0" cy="345.6" r="2.6" fill="#f05a5e"/>
<circle cx="1149.5" cy="346.1" r="2.6" fill="#f05a5e"/>
<circle cx="1151.0" cy="345.9" r="2.6" fill="#f05a5e"/>
<circle cx="1152.6" cy="344.3" r="2.6" fill="#f05a5e"/>
<circle cx="1154.1" cy="345.4" r="2.6" fill="#f05a5e"/>
<circle cx="1155.6" cy="345.0" r="2.6" fill="#f05a5e"/>
<circle cx="1157.1" cy="350.8" r="2.6" fill="#f05a5e"/>
<circle cx="1158.7" cy="345.3" r="2.6" fill="#f05a5e"/>
<circle cx="1160.2" cy="345.5" r="2.6" fill="#f05a5e"/>
<circle cx="1161.7" cy="345.6" r="2.6" fill="#f05a5e"/>
<circle cx="1163.3" cy="345.1" r="2.6" fill="#f05a5e"/>
<circle cx="1164.8" cy="350.3" r="2.6" fill="#f05a5e"/>
<circle cx="1166.3" cy="344.4" r="2.6" fill="#f05a5e"/>
<circle cx="1167.9" cy="344.9" r="2.6" fill="#f05a5e"/>
<circle cx="1169.4" cy="344.4" r="2.6" fill="#f05a5e"/>
<circle cx="1170.9" cy="344.5" r="2.6" fill="#f05a5e"/>
<circle cx="1172.5" cy="344.3" r="2.6" fill="#f05a5e"/>
<circle cx="1174.0" cy="344.9" r="2.6" fill="#f05a5e"/>
<circle cx="1175.5" cy="346.0" r="2.6" fill="#f05a5e"/>
<circle cx="1177.0" cy="344.5" r="2.6" fill="#f05a5e"/>
<circle cx="1178.6" cy="344.3" r="2.6" fill="#f05a5e"/>
<circle cx="1180.1" cy="344.4" r="2.6" fill="#f05a5e"/>
<circle cx="1181.6" cy="345.2" r="2.6" fill="#f05a5e"/>
<circle cx="1183.2" cy="344.8" r="2.6" fill="#f05a5e"/>
<circle cx="1184.7" cy="342.3" r="2.6" fill="#f05a5e"/>
<circle cx="1186.2" cy="344.6" r="2.6" fill="#f05a5e"/>
<circle cx="1187.8" cy="341.5" r="2.6" fill="#f05a5e"/>
<circle cx="1189.3" cy="345.8" r="2.6" fill="#f05a5e"/>
<circle cx="1190.8" cy="343.2" r="2.6" fill="#f05a5e"/>
<circle cx="1192.3" cy="344.5" r="2.6" fill="#f05a5e"/>
<circle cx="1193.9" cy="344.3" r="2.6" fill="#f05a5e"/>
<circle cx="1195.4" cy="348.3" r="2.6" fill="#f05a5e"/>
<circle cx="1196.9" cy="344.7" r="2.6" fill="#f05a5e"/>
<circle cx="1198.5" cy="347.9" r="2.6" fill="#f05a5e"/>
<circle cx="1200.0" cy="346.0" r="2.6" fill="#f05a5e"/>
<circle cx="1201.5" cy="345.7" r="2.6" fill="#f05a5e"/>
<circle cx="1203.0" cy="344.7" r="2.6" fill="#f05a5e"/>
<circle cx="1204.6" cy="344.5" r="2.6" fill="#f05a5e"/>
<circle cx="1206.1" cy="346.3" r="2.6" fill="#f05a5e"/>
<circle cx="1207.6" cy="345.1" r="2.6" fill="#f05a5e"/>
<circle cx="1209.2" cy="346.3" r="2.6" fill="#f05a5e"/>
<circle cx="1210.7" cy="344.8" r="2.6" fill="#f05a5e"/>
<circle cx="1212.2" cy="345.4" r="2.6" fill="#f05a5e"/>
<circle cx="1213.8" cy="345.0" r="2.6" fill="#f05a5e"/>
<circle cx="1215.3" cy="345.0" r="2.6" fill="#f05a5e"/>
<circle cx="1216.8" cy="345.3" r="2.6" fill="#f05a5e"/>
<circle cx="1218.3" cy="345.0" r="2.6" fill="#f05a5e"/>
<circle cx="1219.9" cy="345.4" r="2.6" fill="#f05a5e"/>
<circle cx="1221.4" cy="345.6" r="2.6" fill="#f05a5e"/>
<circle cx="1222.9" cy="345.2" r="2.6" fill="#f05a5e"/>
<circle cx="1224.5" cy="345.6" r="2.6" fill="#f05a5e"/>
<circle cx="1226.0" cy="345.5" r="2.6" fill="#f05a5e"/>
<circle cx="1227.5" cy="345.4" r="2.6" fill="#f05a5e"/>
<circle cx="1229.1" cy="345.2" r="2.6" fill="#f05a5e"/>
<circle cx="1230.6" cy="345.5" r="2.6" fill="#f05a5e"/>
<circle cx="1232.1" cy="345.6" r="2.6" fill="#f05a5e"/>
<circle cx="1233.7" cy="345.0" r="2.6" fill="#f05a5e"/>
<circle cx="1235.2" cy="345.4" r="2.6" fill="#f05a5e"/>
<circle cx="1236.7" cy="345.0" r="2.6" fill="#f05a5e"/>
<circle cx="1238.2" cy="345.0" r="2.6" fill="#f05a5e"/>
<circle cx="1239.8" cy="345.4" r="2.6" fill="#f05a5e"/>
<circle cx="1241.3" cy="345.3" r="2.6" fill="#f05a5e"/>
<circle cx="1242.8" cy="345.3" r="2.6" fill="#f05a5e"/>
<circle cx="1244.4" cy="345.2" r="2.6" fill="#f05a5e"/>
<circle cx="1245.9" cy="345.2" r="2.6" fill="#f05a5e"/>
<circle cx="1247.4" cy="345.3" r="2.6" fill="#f05a5e"/>
<circle cx="1248.9" cy="345.2" r="2.6" fill="#f05a5e"/>
<circle cx="1250.5" cy="345.0" r="2.6" fill="#f05a5e"/>
<circle cx="1252.0" cy="345.3" r="2.6" fill="#f05a5e"/>
<circle cx="1253.5" cy="345.3" r="2.6" fill="#f05a5e"/>
<circle cx="1255.1" cy="345.1" r="2.6" fill="#f05a5e"/>
<circle cx="1256.6" cy="345.5" r="2.6" fill="#f05a5e"/>
<circle cx="1258.1" cy="345.4" r="2.6" fill="#f05a5e"/>
<circle cx="1259.7" cy="345.0" r="2.6" fill="#f05a5e"/>
<circle cx="1261.2" cy="345.3" r="2.6" fill="#f05a5e"/>
<circle cx="1262.7" cy="345.3" r="2.6" fill="#f05a5e"/>
<circle cx="1264.2" cy="345.6" r="2.6" fill="#f05a5e"/>
<circle cx="1265.8" cy="345.4" r="2.6" fill="#f05a5e"/>
<circle cx="1267.3" cy="345.2" r="2.6" fill="#f05a5e"/>
<circle cx="1268.8" cy="345.6" r="2.6" fill="#f05a5e"/>
<circle cx="1270.4" cy="345.2" r="2.6" fill="#f05a5e"/>
<circle cx="1271.9" cy="345.2" r="2.6" fill="#f05a5e"/>
<circle cx="1279.5" cy="345.3" r="2.6" fill="#f05a5e"/>
<circle cx="1287.2" cy="345.3" r="2.6" fill="#f05a5e"/>
<circle cx="1294.8" cy="345.3" r="2.6" fill="#f05a5e"/>
<circle cx="1302.5" cy="345.3" r="2.6" fill="#f05a5e"/>
<circle cx="1310.2" cy="345.3" r="2.6" fill="#f05a5e"/>
<circle cx="1317.8" cy="345.3" r="2.6" fill="#f05a5e"/>
<circle cx="1325.4" cy="345.3" r="2.6" fill="#f05a5e"/>
<circle cx="1333.1" cy="345.3" r="2.6" fill="#f05a5e"/>
<circle cx="1340.8" cy="345.3" r="2.6" fill="#f05a5e"/>
<circle cx="1348.4" cy="345.3" r="2.6" fill="#f05a5e"/>
<circle cx="1356.0" cy="345.3" r="2.6" fill="#f05a5e"/>
<circle cx="1363.7" cy="345.3" r="2.6" fill="#f05a5e"/>
<circle cx="1371.3" cy="345.3" r="2.6" fill="#f05a5e"/>
<circle cx="1379.0" cy="345.3" r="2.6" fill="#f05a5e"/>
<circle cx="1386.7" cy="345.3" r="2.6" fill="#f05a5e"/>
<circle cx="1394.3" cy="345.3" r="2.6" fill="#f05a5e"/>
</g>
<rect x="1184" y="207" width="54" height="17" fill="#c48e2a"/>
<text x="1211.0" y="220.3" font-size="14" fill="#2b1c08" font-weight="bold" letter-spacing="1.5" text-anchor="middle" >560.58</text>
<line x1="1008" y1="453.4" x2="1022" y2="453.4" stroke="#f05a5e" stroke-width="1.3"/>
<circle cx="1015" cy="453.4" r="2.6" fill="#f05a5e"/>
<text x="1025.6" y="458.2" font-size="13" fill="#f0f0f0" font-weight="normal" letter-spacing="1.25" text-anchor="start" >2025-03-11</text>
<line x1="1107.5" y1="453.4" x2="1122" y2="453.4" stroke="#5b5bf0" stroke-width="1.3"/>
<circle cx="1114.8" cy="453.4" r="2.6" fill="#5b5bf0"/>
<text x="1125.7" y="458.2" font-size="13" fill="#f0f0f0" font-weight="normal" letter-spacing="1.25" text-anchor="start" >2025-03-14</text>
<line x1="277.4" y1="520" x2="277.4" y2="707.3" stroke="#242a35" stroke-width="1" stroke-dasharray="2,1.7"/>
<line x1="355.1" y1="520" x2="355.1" y2="707.3" stroke="#242a35" stroke-width="1" stroke-dasharray="2,1.7"/>
<line x1="432.8" y1="520" x2="432.8" y2="707.3" stroke="#242a35" stroke-width="1" stroke-dasharray="2,1.7"/>
<line x1="510.4" y1="520" x2="510.4" y2="707.3" stroke="#242a35" stroke-width="1" stroke-dasharray="2,1.7"/>
<line x1="588.1" y1="520" x2="588.1" y2="707.3" stroke="#242a35" stroke-width="1" stroke-dasharray="2,1.7"/>
<line x1="665.8" y1="520" x2="665.8" y2="707.3" stroke="#242a35" stroke-width="1" stroke-dasharray="2,1.7"/>
<line x1="743.5" y1="520" x2="743.5" y2="707.3" stroke="#242a35" stroke-width="1" stroke-dasharray="2,1.7"/>
<line x1="211" y1="531.1" x2="768.6" y2="531.1" stroke="#242a35" stroke-width="1" stroke-dasharray="2,1.7"/>
<line x1="211" y1="559.2" x2="768.6" y2="559.2" stroke="#242a35" stroke-width="1" stroke-dasharray="2,1.7"/>
<line x1="211" y1="587.3" x2="768.6" y2="587.3" stroke="#242a35" stroke-width="1" stroke-dasharray="2,1.7"/>
<line x1="211" y1="615.3" x2="768.6" y2="615.3" stroke="#242a35" stroke-width="1" stroke-dasharray="2,1.7"/>
<line x1="211" y1="643.4" x2="768.6" y2="643.4" stroke="#242a35" stroke-width="1" stroke-dasharray="2,1.7"/>
<line x1="211" y1="671.4" x2="768.6" y2="671.4" stroke="#242a35" stroke-width="1" stroke-dasharray="2,1.7"/>
<line x1="211" y1="699.5" x2="768.6" y2="699.5" stroke="#242a35" stroke-width="1" stroke-dasharray="2,1.7"/>
<line x1="210" y1="520" x2="210" y2="707.3" stroke="#8a9099" stroke-width="1"/>
<line x1="213.5" y1="711.4" x2="768.6" y2="711.4" stroke="#8a9099" stroke-width="1"/>
<line x1="207" y1="531.1" x2="210" y2="531.1" stroke="#8a9099" stroke-width="1"/>
<text x="203.5" y="535.7" font-size="13" fill="#c8c8c8" font-weight="normal" letter-spacing="1.0" text-anchor="end" stroke="#c8c8c8" stroke-width="0.25">500</text>
<line x1="207" y1="559.2" x2="210" y2="559.2" stroke="#8a9099" stroke-width="1"/>
<text x="203.5" y="563.8" font-size="13" fill="#c8c8c8" font-weight="normal" letter-spacing="1.0" text-anchor="end" stroke="#c8c8c8" stroke-width="0.25">0</text>
<line x1="207" y1="587.3" x2="210" y2="587.3" stroke="#8a9099" stroke-width="1"/>
<text x="203.5" y="591.9" font-size="13" fill="#c8c8c8" font-weight="normal" letter-spacing="1.0" text-anchor="end" stroke="#c8c8c8" stroke-width="0.25">-<tspan dx="1.6">500</tspan></text>
<line x1="207" y1="615.3" x2="210" y2="615.3" stroke="#8a9099" stroke-width="1"/>
<text x="203.5" y="619.9" font-size="13" fill="#c8c8c8" font-weight="normal" letter-spacing="1.0" text-anchor="end" stroke="#c8c8c8" stroke-width="0.25">-<tspan dx="1.6">1,000</tspan></text>
<line x1="207" y1="643.4" x2="210" y2="643.4" stroke="#8a9099" stroke-width="1"/>
<text x="203.5" y="648.0" font-size="13" fill="#c8c8c8" font-weight="normal" letter-spacing="1.0" text-anchor="end" stroke="#c8c8c8" stroke-width="0.25">-<tspan dx="1.6">1,500</tspan></text>
<line x1="207" y1="671.4" x2="210" y2="671.4" stroke="#8a9099" stroke-width="1"/>
<text x="203.5" y="676.0" font-size="13" fill="#c8c8c8" font-weight="normal" letter-spacing="1.0" text-anchor="end" stroke="#c8c8c8" stroke-width="0.25">-<tspan dx="1.6">2,000</tspan></text>
<line x1="207" y1="699.5" x2="210" y2="699.5" stroke="#8a9099" stroke-width="1"/>
<text x="203.5" y="704.1" font-size="13" fill="#c8c8c8" font-weight="normal" letter-spacing="1.0" text-anchor="end" stroke="#c8c8c8" stroke-width="0.25">-<tspan dx="1.6">2,500</tspan></text>
<line x1="277.4" y1="711.4" x2="277.4" y2="714.4" stroke="#8a9099" stroke-width="1"/>
<text x="278.2" y="729.9" font-size="13" fill="#c8c8c8" font-weight="normal" letter-spacing="0.9" text-anchor="middle" stroke="#c8c8c8" stroke-width="0.25">400</text>
<line x1="355.1" y1="711.4" x2="355.1" y2="714.4" stroke="#8a9099" stroke-width="1"/>
<text x="355.9" y="729.9" font-size="13" fill="#c8c8c8" font-weight="normal" letter-spacing="0.9" text-anchor="middle" stroke="#c8c8c8" stroke-width="0.25">450</text>
<line x1="432.8" y1="711.4" x2="432.8" y2="714.4" stroke="#8a9099" stroke-width="1"/>
<text x="433.6" y="729.9" font-size="13" fill="#c8c8c8" font-weight="normal" letter-spacing="0.9" text-anchor="middle" stroke="#c8c8c8" stroke-width="0.25">500</text>
<line x1="510.4" y1="711.4" x2="510.4" y2="714.4" stroke="#8a9099" stroke-width="1"/>
<text x="511.2" y="729.9" font-size="13" fill="#c8c8c8" font-weight="normal" letter-spacing="0.9" text-anchor="middle" stroke="#c8c8c8" stroke-width="0.25">550</text>
<line x1="588.1" y1="711.4" x2="588.1" y2="714.4" stroke="#8a9099" stroke-width="1"/>
<text x="588.9" y="729.9" font-size="13" fill="#c8c8c8" font-weight="normal" letter-spacing="0.9" text-anchor="middle" stroke="#c8c8c8" stroke-width="0.25">600</text>
<line x1="665.8" y1="711.4" x2="665.8" y2="714.4" stroke="#8a9099" stroke-width="1"/>
<text x="666.6" y="729.9" font-size="13" fill="#c8c8c8" font-weight="normal" letter-spacing="0.9" text-anchor="middle" stroke="#c8c8c8" stroke-width="0.25">650</text>
<line x1="743.5" y1="711.4" x2="743.5" y2="714.4" stroke="#8a9099" stroke-width="1"/>
<text x="744.3" y="729.9" font-size="13" fill="#c8c8c8" font-weight="normal" letter-spacing="0.9" text-anchor="middle" stroke="#c8c8c8" stroke-width="0.25">700</text>
<text x="454.5" y="506.0" font-size="17" fill="#e8a33a" font-weight="bold" letter-spacing="0" text-anchor="middle" >Charm Exposure</text>
<text x="0" y="0" font-size="13" fill="#c8c8c8" letter-spacing="1.25" text-anchor="middle" transform="translate(153.5,614) rotate(-90)">Charm Exposure</text>
<text x="491.0" y="748.0" font-size="13" fill="#c8c8c8" font-weight="normal" letter-spacing="1.2" text-anchor="middle" >Strike</text>
<circle cx="142" cy="477" r="7.3" fill="none" stroke="#e8a33a" stroke-width="1.5"/>
<rect x="141.1" y="474.5" width="1.9" height="6" fill="#e8a33a"/><rect x="141" y="471.5" width="2" height="1.8" fill="#e8a33a"/><rect x="139.5" y="479.6" width="5" height="1.3" fill="#e8a33a"/>
<text x="155.0" y="481.5" font-size="12" fill="#e8a33a" font-weight="normal" letter-spacing="0" text-anchor="start" >Info</text>
<clipPath id="cc"><rect x="211" y="520" width="558.6" height="191.39999999999998"/></clipPath>
<g clip-path="url(#cc)">
<line x1="526.9" y1="520" x2="526.9" y2="707.3" stroke="#5e4a2c" stroke-width="1"/>
<path d="M238.6,560.3 L239.9,560.1 L241.1,559.9 L242.4,559.7 L243.7,559.5 L245.0,559.3 L246.3,559.2 L247.6,559.1 L248.9,559.1 L250.2,559.1 L251.5,559.1 L252.8,559.2 L254.1,559.2 L255.4,559.2 L256.7,559.2 L258.0,559.2 L259.3,559.2 L260.6,559.2 L261.9,559.2 L263.2,559.2 L264.5,559.1 L265.7,559.1 L267.0,559.1 L268.3,559.1 L269.6,559.2 L270.9,559.3 L272.2,559.4 L273.5,559.6 L274.8,559.7 L276.1,559.8 L277.4,559.8 L278.7,559.7 L280.0,559.6 L281.3,559.4 L282.6,559.3 L283.9,559.2 L285.2,559.2 L286.5,559.3 L287.8,559.4 L289.1,559.6 L290.3,559.7 L291.6,559.8 L292.9,559.8 L294.2,559.6 L295.5,559.4 L296.8,559.2 L298.1,559.0 L299.4,559.0 L300.7,559.2 L302.0,559.7 L303.3,560.2 L304.6,560.7 L305.9,560.9 L307.2,560.7 L308.5,559.8 L309.8,558.2 L311.1,556.4 L312.4,555.0 L313.7,554.6 L314.9,555.8 L316.2,559.2 L317.5,565.1 L318.8,572.6 L320.1,580.3 L321.4,586.8 L322.7,590.8 L324.0,591.0 L325.3,586.7 L326.6,579.3 L327.9,570.8 L329.2,563.3 L330.5,558.7 L331.8,559.2 L333.1,566.0 L334.4,577.3 L335.7,590.7 L337.0,603.7 L338.3,613.7 L339.5,618.4 L340.8,616.0 L342.1,607.7 L343.4,595.8 L344.7,582.4 L346.0,569.5 L347.3,559.2 L348.6,553.2 L349.9,550.9 L351.2,551.4 L352.5,553.6 L353.8,556.5 L355.1,559.2 L356.4,560.8 L357.7,561.4 L359.0,561.2 L360.3,560.6 L361.6,559.8 L362.9,559.2 L364.1,558.9 L365.4,558.9 L366.7,559.0 L368.0,559.2 L369.3,559.3 L370.6,559.2 L371.9,558.9 L373.2,558.4 L374.5,558.0 L375.8,557.9 L377.1,558.2 L378.4,559.2 L379.7,560.9 L381.0,562.8 L382.3,564.2 L383.6,564.5 L384.9,563.1 L386.2,559.2 L387.5,552.7 L388.7,545.6 L390.0,540.3 L391.3,539.1 L392.6,544.6 L393.9,559.2 L395.2,584.0 L396.5,615.1 L397.8,647.4 L399.1,675.6 L400.4,694.6 L401.7,699.2 L403.0,686.2 L404.3,660.3 L405.6,628.0 L406.9,596.0 L408.2,570.9 L409.5,559.2 L410.0,559.4 L410.5,560.9 L411.0,561.7 L411.5,560.5 L412.1,558.9 L412.6,558.8 L413.1,561.3 L413.6,563.7 L414.1,562.1 L414.6,555.4 L415.2,553.6 L415.7,569.3 L416.2,608.7 L416.7,651.4 L417.2,670.5 L417.7,648.0 L418.3,602.5 L418.8,561.6 L419.3,546.0 L419.8,549.4 L420.3,558.6 L420.9,563.3 L421.4,563.4 L421.9,561.7 L422.4,560.6 L422.9,560.1 L423.4,560.0 L424.0,560.2 L424.5,560.5 L425.0,560.8 L425.5,560.9 L426.0,560.9 L426.6,560.8 L427.1,560.5 L427.6,560.4 L428.1,560.6 L428.6,561.4 L429.1,562.0 L429.7,561.8 L430.2,560.3 L430.7,558.9 L431.2,559.3 L431.7,562.7 L432.2,567.9 L432.8,573.4 L434.1,581.8 L435.4,583.3 L436.7,579.9 L437.9,573.8 L439.2,567.0 L440.5,561.6 L441.8,559.3 L443.1,559.5 L444.4,561.3 L445.7,563.8 L447.0,566.1 L448.3,567.3 L449.6,566.6 L450.9,564.7 L452.2,562.4 L453.5,560.6 L454.8,560.0 L456.1,561.5 L456.6,562.9 L457.1,564.7 L457.6,566.8 L458.7,571.6 L459.7,576.4 L460.7,580.0 L461.8,581.5 L462.8,579.7 L463.8,573.7 L464.4,569.0 L464.9,564.3 L465.4,561.2 L465.9,560.6 L466.4,561.6 L466.9,563.0 L467.5,563.7 L468.0,563.9 L468.5,563.9 L469.0,563.9 L469.5,563.9 L470.1,563.4 L470.6,562.3 L471.1,561.2 L471.6,560.9 L472.1,562.0 L472.6,563.4 L473.2,564.0 L473.7,563.1 L474.2,561.8 L474.7,562.2 L475.2,564.9 L475.8,566.6 L476.3,563.0 L476.8,552.7 L477.3,547.5 L477.8,562.0 L478.3,603.8 L478.9,650.6 L479.4,672.8 L479.9,650.6 L480.4,603.8 L480.9,561.9 L481.4,547.1 L482.0,552.2 L482.5,562.6 L483.0,566.7 L483.5,565.3 L484.0,562.1 L484.6,560.2 L485.1,560.0 L485.6,561.2 L486.1,563.5 L486.6,565.9 L487.1,567.3 L487.7,566.9 L488.2,565.5 L488.7,563.8 L489.2,562.7 L489.7,562.7 L490.3,564.0 L490.8,566.4 L491.3,566.6 L491.8,561.1 L492.3,549.3 L492.8,544.4 L493.4,562.6 L493.9,611.8 L494.4,666.2 L494.9,691.6 L495.4,665.2 L495.9,610.2 L496.5,561.1 L497.0,543.9 L497.5,550.1 L498.0,562.3 L498.5,567.1 L499.1,565.3 L499.6,561.8 L500.1,560.2 L500.6,560.3 L501.1,561.3 L501.6,562.2 L502.2,562.8 L502.7,563.3 L503.2,563.6 L503.7,563.5 L504.2,563.0 L504.8,562.1 L505.3,561.3 L505.8,561.3 L506.3,562.4 L506.8,563.7 L507.3,563.8 L507.9,562.1 L508.4,560.5 L508.9,561.7 L509.4,567.0 L509.9,573.4 L510.4,576.6 L511.0,573.8 L511.5,567.6 L512.0,561.9 L512.5,559.9 L513.0,560.5 L513.6,561.9 L514.1,562.6 L514.6,562.2 L515.1,561.1 L515.6,559.4 L516.1,558.9 L516.7,561.4 L517.2,567.9 L517.7,575.2 L518.2,578.8 L518.7,575.9 L519.3,569.4 L519.8,563.6 L520.3,561.6 L520.8,562.4 L521.3,563.7 L521.8,563.9 L522.4,563.2 L522.9,562.5 L523.4,562.3 L523.9,562.5 L524.4,562.5 L525.0,562.0 L525.5,560.7 L526.0,558.6 L526.5,555.7 L527.0,553.0 L527.5,551.6 L528.1,552.3 L528.6,553.9 L529.1,554.9 L529.6,554.2 L530.1,553.1 L530.6,553.3 L531.2,555.8 L531.7,558.2 L532.2,557.3 L532.7,551.4 L533.2,544.1 L533.8,540.7 L534.3,544.6 L534.8,552.5 L535.3,559.1 L535.8,560.7 L536.3,558.8 L536.9,556.3 L537.4,555.4 L537.9,555.9 L538.4,557.0 L538.9,557.7 L539.5,557.4 L540.0,555.6 L540.5,552.2 L541.0,548.5 L541.5,546.5 L542.0,547.5 L542.6,550.0 L543.1,552.2 L543.6,552.5 L544.1,551.8 L544.6,551.7 L545.1,553.1 L545.7,555.5 L546.2,557.7 L546.7,558.8 L547.2,558.3 L547.7,555.9 L548.3,551.5 L548.8,547.1 L549.3,545.1 L549.8,547.0 L550.3,550.8 L550.8,553.6 L551.4,553.5 L551.9,551.9 L552.4,551.0 L552.9,552.3 L553.4,555.0 L554.0,557.5 L554.5,558.4 L555.0,556.9 L555.5,552.7 L556.0,546.1 L556.5,540.0 L557.1,538.6 L557.6,544.1 L558.1,552.7 L558.6,559.1 L559.1,559.3 L559.6,555.9 L560.2,552.8 L560.7,552.9 L561.2,554.9 L561.7,556.3 L562.2,555.4 L562.8,553.5 L563.3,552.4 L563.8,553.7 L564.3,556.4 L564.8,559.0 L565.3,560.3 L565.9,560.6 L566.4,560.1 L566.9,559.5 L567.4,559.1 L567.9,559.1 L568.5,559.7 L569.0,560.0 L569.5,558.9 L570.0,556.0 L570.5,553.0 L571.0,552.4 L571.6,555.6 L572.1,560.5 L572.6,564.1 L573.1,564.1 L573.6,562.0 L574.2,559.8 L574.7,559.3 L575.2,560.0 L575.7,560.9 L576.2,561.2 L576.7,561.1 L577.3,561.0 L577.8,561.0 L578.3,561.1 L578.8,560.8 L579.3,560.0 L579.8,559.1 L580.4,558.5 L580.9,558.8 L581.4,559.3 L581.9,559.4 L582.4,558.6 L583.0,557.5 L583.5,556.9 L584.0,557.3 L584.5,558.2 L585.0,558.6 L585.5,558.1 L586.1,557.3 L586.6,557.5 L587.1,559.2 L587.6,561.5 L588.1,562.9 L588.7,562.5 L589.2,561.1 L589.7,559.7 L590.2,559.2 L590.7,559.4 L591.2,559.7 L591.8,559.9 L592.3,559.8 L592.8,559.6 L593.3,559.5 L593.8,559.4 L594.3,559.3 L594.9,559.3 L595.4,559.2 L595.9,559.1 L596.4,559.0 L596.9,558.9 L597.5,558.9 L598.0,559.1 L598.5,559.3 L599.0,559.4 L599.5,559.1 L600.0,558.8 L600.6,558.7 L601.1,559.0 L601.6,559.5 L602.1,559.8 L602.6,559.5 L603.2,559.1 L603.7,558.8 L604.2,559.0 L604.7,559.3 L605.2,559.5 L605.7,559.3 L606.3,558.9 L606.8,558.8 L607.3,559.0 L607.8,559.5 L608.3,559.7 L608.8,559.5 L609.4,559.1 L609.9,558.7 L610.4,558.6 L610.9,558.8 L611.4,558.9 L612.0,558.9 L612.5,558.7 L613.0,558.6 L613.5,558.7 L614.0,558.9 L614.5,559.1 L615.1,559.4 L615.6,559.6 L616.1,559.6 L616.6,559.3 L617.1,558.9 L617.7,558.7 L618.2,558.7 L618.7,559.0 L619.2,559.3 L619.9,559.5 L620.5,559.6 L621.1,559.6 L621.8,559.5 L622.4,559.3 L623.1,559.2 L624.4,559.0 L625.7,558.9 L627.0,559.0 L628.3,559.0 L629.6,559.1 L630.9,559.2 L632.2,559.3 L633.4,559.3 L634.7,559.3 L636.0,559.3 L637.3,559.2 L638.6,559.2" fill="none" stroke="#5b5bf0" stroke-width="1.0" stroke-linejoin="round"/>
<circle cx="238.6" cy="560.3" r="2.6" fill="#5b5bf0"/>
<circle cx="246.3" cy="559.2" r="2.6" fill="#5b5bf0"/>
<circle cx="254.1" cy="559.2" r="2.6" fill="#5b5bf0"/>
<circle cx="261.9" cy="559.2" r="2.6" fill="#5b5bf0"/>
<circle cx="269.6" cy="559.2" r="2.6" fill="#5b5bf0"/>
<circle cx="277.4" cy="559.8" r="2.6" fill="#5b5bf0"/>
<circle cx="285.2" cy="559.2" r="2.6" fill="#5b5bf0"/>
<circle cx="292.9" cy="559.8" r="2.6" fill="#5b5bf0"/>
<circle cx="300.7" cy="559.2" r="2.6" fill="#5b5bf0"/>
<circle cx="308.5" cy="559.8" r="2.6" fill="#5b5bf0"/>
<circle cx="316.2" cy="559.2" r="2.6" fill="#5b5bf0"/>
<circle cx="324.0" cy="591.0" r="2.6" fill="#5b5bf0"/>
<circle cx="331.8" cy="559.2" r="2.6" fill="#5b5bf0"/>
<circle cx="339.5" cy="618.4" r="2.6" fill="#5b5bf0"/>
<circle cx="347.3" cy="559.2" r="2.6" fill="#5b5bf0"/>
<circle cx="355.1" cy="559.2" r="2.6" fill="#5b5bf0"/>
<circle cx="362.9" cy="559.2" r="2.6" fill="#5b5bf0"/>
<circle cx="370.6" cy="559.2" r="2.6" fill="#5b5bf0"/>
<circle cx="378.4" cy="559.2" r="2.6" fill="#5b5bf0"/>
<circle cx="386.2" cy="559.2" r="2.6" fill="#5b5bf0"/>
<circle cx="393.9" cy="559.2" r="2.6" fill="#5b5bf0"/>
<circle cx="401.7" cy="699.2" r="2.6" fill="#5b5bf0"/>
<circle cx="409.5" cy="559.2" r="2.6" fill="#5b5bf0"/>
<circle cx="411.0" cy="561.7" r="2.6" fill="#5b5bf0"/>
<circle cx="412.6" cy="558.8" r="2.6" fill="#5b5bf0"/>
<circle cx="414.1" cy="562.1" r="2.6" fill="#5b5bf0"/>
<circle cx="415.7" cy="569.3" r="2.6" fill="#5b5bf0"/>
<circle cx="417.2" cy="670.5" r="2.6" fill="#5b5bf0"/>
<circle cx="418.8" cy="561.6" r="2.6" fill="#5b5bf0"/>
<circle cx="420.3" cy="558.6" r="2.6" fill="#5b5bf0"/>
<circle cx="421.9" cy="561.7" r="2.6" fill="#5b5bf0"/>
<circle cx="423.4" cy="560.0" r="2.6" fill="#5b5bf0"/>
<circle cx="425.0" cy="560.8" r="2.6" fill="#5b5bf0"/>
<circle cx="426.6" cy="560.8" r="2.6" fill="#5b5bf0"/>
<circle cx="428.1" cy="560.6" r="2.6" fill="#5b5bf0"/>
<circle cx="429.7" cy="561.8" r="2.6" fill="#5b5bf0"/>
<circle cx="431.2" cy="559.3" r="2.6" fill="#5b5bf0"/>
<circle cx="432.8" cy="573.4" r="2.6" fill="#5b5bf0"/>
<circle cx="440.5" cy="561.6" r="2.6" fill="#5b5bf0"/>
<circle cx="448.3" cy="567.3" r="2.6" fill="#5b5bf0"/>
<circle cx="456.1" cy="561.5" r="2.6" fill="#5b5bf0"/>
<circle cx="457.6" cy="566.8" r="2.6" fill="#5b5bf0"/>
<circle cx="463.8" cy="573.7" r="2.6" fill="#5b5bf0"/>
<circle cx="465.4" cy="561.2" r="2.6" fill="#5b5bf0"/>
<circle cx="466.9" cy="563.0" r="2.6" fill="#5b5bf0"/>
<circle cx="468.5" cy="563.9" r="2.6" fill="#5b5bf0"/>
<circle cx="470.1" cy="563.4" r="2.6" fill="#5b5bf0"/>
<circle cx="471.6" cy="560.9" r="2.6" fill="#5b5bf0"/>
<circle cx="473.2" cy="564.0" r="2.6" fill="#5b5bf0"/>
<circle cx="474.7" cy="562.2" r="2.6" fill="#5b5bf0"/>
<circle cx="476.3" cy="563.0" r="2.6" fill="#5b5bf0"/>
<circle cx="477.8" cy="562.0" r="2.6" fill="#5b5bf0"/>
<circle cx="479.4" cy="672.8" r="2.6" fill="#5b5bf0"/>
<circle cx="480.9" cy="561.9" r="2.6" fill="#5b5bf0"/>
<circle cx="482.5" cy="562.6" r="2.6" fill="#5b5bf0"/>
<circle cx="484.0" cy="562.1" r="2.6" fill="#5b5bf0"/>
<circle cx="485.6" cy="561.2" r="2.6" fill="#5b5bf0"/>
<circle cx="487.1" cy="567.3" r="2.6" fill="#5b5bf0"/>
<circle cx="488.7" cy="563.8" r="2.6" fill="#5b5bf0"/>
<circle cx="490.3" cy="564.0" r="2.6" fill="#5b5bf0"/>
<circle cx="491.8" cy="561.1" r="2.6" fill="#5b5bf0"/>
<circle cx="493.4" cy="562.6" r="2.6" fill="#5b5bf0"/>
<circle cx="494.9" cy="691.6" r="2.6" fill="#5b5bf0"/>
<circle cx="496.5" cy="561.1" r="2.6" fill="#5b5bf0"/>
<circle cx="498.0" cy="562.3" r="2.6" fill="#5b5bf0"/>
<circle cx="499.6" cy="561.8" r="2.6" fill="#5b5bf0"/>
<circle cx="501.1" cy="561.3" r="2.6" fill="#5b5bf0"/>
<circle cx="502.7" cy="563.3" r="2.6" fill="#5b5bf0"/>
<circle cx="504.2" cy="563.0" r="2.6" fill="#5b5bf0"/>
<circle cx="505.8" cy="561.3" r="2.6" fill="#5b5bf0"/>
<circle cx="507.3" cy="563.8" r="2.6" fill="#5b5bf0"/>
<circle cx="508.9" cy="561.7" r="2.6" fill="#5b5bf0"/>
<circle cx="510.4" cy="576.6" r="2.6" fill="#5b5bf0"/>
<circle cx="512.0" cy="561.9" r="2.6" fill="#5b5bf0"/>
<circle cx="513.6" cy="561.9" r="2.6" fill="#5b5bf0"/>
<circle cx="515.1" cy="561.1" r="2.6" fill="#5b5bf0"/>
<circle cx="516.7" cy="561.4" r="2.6" fill="#5b5bf0"/>
<circle cx="518.2" cy="578.8" r="2.6" fill="#5b5bf0"/>
<circle cx="519.8" cy="563.6" r="2.6" fill="#5b5bf0"/>
<circle cx="521.3" cy="563.7" r="2.6" fill="#5b5bf0"/>
<circle cx="522.9" cy="562.5" r="2.6" fill="#5b5bf0"/>
<circle cx="524.4" cy="562.5" r="2.6" fill="#5b5bf0"/>
<circle cx="526.0" cy="558.6" r="2.6" fill="#5b5bf0"/>
<circle cx="527.5" cy="551.6" r="2.6" fill="#5b5bf0"/>
<circle cx="529.1" cy="554.9" r="2.6" fill="#5b5bf0"/>
<circle cx="530.6" cy="553.3" r="2.6" fill="#5b5bf0"/>
<circle cx="532.2" cy="557.3" r="2.6" fill="#5b5bf0"/>
<circle cx="533.8" cy="540.7" r="2.6" fill="#5b5bf0"/>
<circle cx="535.3" cy="559.1" r="2.6" fill="#5b5bf0"/>
<circle cx="536.9" cy="556.3" r="2.6" fill="#5b5bf0"/>
<circle cx="538.4" cy="557.0" r="2.6" fill="#5b5bf0"/>
<circle cx="540.0" cy="555.6" r="2.6" fill="#5b5bf0"/>
<circle cx="541.5" cy="546.5" r="2.6" fill="#5b5bf0"/>
<circle cx="543.1" cy="552.2" r="2.6" fill="#5b5bf0"/>
<circle cx="544.6" cy="551.7" r="2.6" fill="#5b5bf0"/>
<circle cx="546.2" cy="557.7" r="2.6" fill="#5b5bf0"/>
<circle cx="547.7" cy="555.9" r="2.6" fill="#5b5bf0"/>
<circle cx="549.3" cy="545.1" r="2.6" fill="#5b5bf0"/>
<circle cx="550.8" cy="553.6" r="2.6" fill="#5b5bf0"/>
<circle cx="552.4" cy="551.0" r="2.6" fill="#5b5bf0"/>
<circle cx="554.0" cy="557.5" r="2.6" fill="#5b5bf0"/>
<circle cx="555.5" cy="552.7" r="2.6" fill="#5b5bf0"/>
<circle cx="557.1" cy="538.6" r="2.6" fill="#5b5bf0"/>
<circle cx="558.6" cy="559.1" r="2.6" fill="#5b5bf0"/>
<circle cx="560.2" cy="552.8" r="2.6" fill="#5b5bf0"/>
<circle cx="561.7" cy="556.3" r="2.6" fill="#5b5bf0"/>
<circle cx="563.3" cy="552.4" r="2.6" fill="#5b5bf0"/>
<circle cx="564.8" cy="559.0" r="2.6" fill="#5b5bf0"/>
<circle cx="566.4" cy="560.1" r="2.6" fill="#5b5bf0"/>
<circle cx="567.9" cy="559.1" r="2.6" fill="#5b5bf0"/>
<circle cx="569.5" cy="558.9" r="2.6" fill="#5b5bf0"/>
<circle cx="571.0" cy="552.4" r="2.6" fill="#5b5bf0"/>
<circle cx="572.6" cy="564.1" r="2.6" fill="#5b5bf0"/>
<circle cx="574.2" cy="559.8" r="2.6" fill="#5b5bf0"/>
<circle cx="575.7" cy="560.9" r="2.6" fill="#5b5bf0"/>
<circle cx="577.3" cy="561.0" r="2.6" fill="#5b5bf0"/>
<circle cx="578.8" cy="560.8" r="2.6" fill="#5b5bf0"/>
<circle cx="580.4" cy="558.5" r="2.6" fill="#5b5bf0"/>
<circle cx="581.9" cy="559.4" r="2.6" fill="#5b5bf0"/>
<circle cx="583.5" cy="556.9" r="2.6" fill="#5b5bf0"/>
<circle cx="585.0" cy="558.6" r="2.6" fill="#5b5bf0"/>
<circle cx="586.6" cy="557.5" r="2.6" fill="#5b5bf0"/>
<circle cx="588.1" cy="562.9" r="2.6" fill="#5b5bf0"/>
<circle cx="589.7" cy="559.7" r="2.6" fill="#5b5bf0"/>
<circle cx="591.2" cy="559.7" r="2.6" fill="#5b5bf0"/>
<circle cx="592.8" cy="559.6" r="2.6" fill="#5b5bf0"/>
<circle cx="594.3" cy="559.3" r="2.6" fill="#5b5bf0"/>
<circle cx="595.9" cy="559.1" r="2.6" fill="#5b5bf0"/>
<circle cx="597.5" cy="558.9" r="2.6" fill="#5b5bf0"/>
<circle cx="599.0" cy="559.4" r="2.6" fill="#5b5bf0"/>
<circle cx="600.6" cy="558.7" r="2.6" fill="#5b5bf0"/>
<circle cx="602.1" cy="559.8" r="2.6" fill="#5b5bf0"/>
<circle cx="603.7" cy="558.8" r="2.6" fill="#5b5bf0"/>
<circle cx="605.2" cy="559.5" r="2.6" fill="#5b5bf0"/>
<circle cx="606.8" cy="558.8" r="2.6" fill="#5b5bf0"/>
<circle cx="608.3" cy="559.7" r="2.6" fill="#5b5bf0"/>
<circle cx="609.9" cy="558.7" r="2.6" fill="#5b5bf0"/>
<circle cx="611.4" cy="558.9" r="2.6" fill="#5b5bf0"/>
<circle cx="613.0" cy="558.6" r="2.6" fill="#5b5bf0"/>
<circle cx="614.5" cy="559.1" r="2.6" fill="#5b5bf0"/>
<circle cx="616.1" cy="559.6" r="2.6" fill="#5b5bf0"/>
<circle cx="617.7" cy="558.7" r="2.6" fill="#5b5bf0"/>
<circle cx="619.2" cy="559.3" r="2.6" fill="#5b5bf0"/>
<circle cx="623.1" cy="559.2" r="2.6" fill="#5b5bf0"/>
<circle cx="630.9" cy="559.2" r="2.6" fill="#5b5bf0"/>
<circle cx="638.6" cy="559.2" r="2.6" fill="#5b5bf0"/>
<path d="M277.4,559.2 L285.2,559.2 L292.9,559.2 L300.7,559.2 L308.5,559.2 L316.2,559.2 L324.0,559.2 L331.8,559.2 L339.5,559.2 L347.3,559.2 L355.1,559.2 L362.9,559.2 L370.6,559.2 L378.4,559.2 L386.2,559.2 L393.9,559.2 L401.7,559.2 L409.5,559.2 L411.0,558.1 L412.6,558.4 L414.1,557.7 L415.7,554.6 L417.2,558.5 L418.8,557.7 L420.3,556.6 L421.9,556.8 L423.4,556.9 L425.0,558.1 L426.6,557.4 L428.1,558.0 L429.7,554.6 L431.2,558.4 L432.8,558.2 L440.5,558.3 L448.3,556.8 L456.1,556.8 L463.8,554.6 L465.4,556.4 L466.9,556.1 L468.5,555.2 L470.1,554.9 L471.6,554.6 L473.2,554.5 L474.7,556.7 L476.3,555.3 L477.8,555.1 L479.4,555.5 L480.9,556.5 L482.5,555.6 L484.0,556.7 L485.6,554.3 L486.8,552.4 L487.1,554.5 L488.7,555.4 L490.3,556.1 L491.8,554.4 L493.4,555.3 L494.9,554.5 L496.5,550.2 L498.0,555.5 L499.6,555.8 L501.1,555.3 L502.7,527.9 L504.2,556.5 L505.8,556.1 L507.3,554.7 L508.9,556.8 L510.4,532.3 L512.0,555.2 L513.6,556.2 L515.1,555.5 L516.7,555.6 L518.2,550.6 L519.8,554.2 L521.3,556.4 L522.9,555.8 L524.4,556.4 L526.0,557.9 L527.5,559.9 L529.1,559.4 L530.6,557.3 L532.2,559.6 L533.8,558.3 L534.5,567.8 L535.3,576.3 L536.9,560.9 L538.4,561.1 L540.0,570.4 L541.5,557.2 L543.1,558.0 L544.6,560.1 L545.6,549.5 L546.2,559.6 L547.7,560.4 L549.3,558.9 L550.8,561.2 L552.4,557.5 L554.0,556.4 L555.5,556.1 L557.1,550.2 L558.6,558.4 L560.2,559.7 L561.7,559.4 L563.3,558.4 L564.8,558.7 L566.4,559.2 L567.9,558.4 L569.5,558.9 L571.0,558.6 L572.6,559.3 L574.2,559.5 L575.7,559.1 L577.3,559.6 L578.8,559.2 L580.4,558.4 L581.9,559.3 L583.5,559.7 L585.0,559.7 L586.6,559.5 L588.1,558.7 L589.7,559.3 L591.2,559.4 L592.8,559.6 L594.3,558.4 L595.9,559.2 L597.5,559.5 L599.0,559.7 L600.6,559.7 L602.1,559.5 L603.7,558.8 L605.2,559.6 L606.8,559.7 L608.3,559.1 L609.9,559.4 L611.4,558.4 L613.0,559.6 L614.5,559.0 L616.1,558.7 L617.7,559.2 L619.2,558.4 L627.0,559.2 L634.7,559.2 L642.5,559.2 L650.3,559.2 L658.0,559.2 L665.8,559.2 L673.6,559.2 L681.4,559.2 L689.1,559.2 L696.9,559.2 L704.7,559.2 L712.4,559.2 L720.2,559.2 L728.0,559.2 L735.7,559.2 L743.5,559.2" fill="none" stroke="#f05a5e" stroke-width="1.0" stroke-linejoin="round"/>
<circle cx="277.4" cy="559.2" r="2.6" fill="#f05a5e"/>
<circle cx="285.2" cy="559.2" r="2.6" fill="#f05a5e"/>
<circle cx="292.9" cy="559.2" r="2.6" fill="#f05a5e"/>
<circle cx="300.7" cy="559.2" r="2.6" fill="#f05a5e"/>
<circle cx="308.5" cy="559.2" r="2.6" fill="#f05a5e"/>
<circle cx="316.2" cy="559.2" r="2.6" fill="#f05a5e"/>
<circle cx="324.0" cy="559.2" r="2.6" fill="#f05a5e"/>
<circle cx="331.8" cy="559.2" r="2.6" fill="#f05a5e"/>
<circle cx="339.5" cy="559.2" r="2.6" fill="#f05a5e"/>
<circle cx="347.3" cy="559.2" r="2.6" fill="#f05a5e"/>
<circle cx="355.1" cy="559.2" r="2.6" fill="#f05a5e"/>
<circle cx="362.9" cy="559.2" r="2.6" fill="#f05a5e"/>
<circle cx="370.6" cy="559.2" r="2.6" fill="#f05a5e"/>
<circle cx="378.4" cy="559.2" r="2.6" fill="#f05a5e"/>
<circle cx="386.2" cy="559.2" r="2.6" fill="#f05a5e"/>
<circle cx="393.9" cy="559.2" r="2.6" fill="#f05a5e"/>
<circle cx="401.7" cy="559.2" r="2.6" fill="#f05a5e"/>
<circle cx="409.5" cy="559.2" r="2.6" fill="#f05a5e"/>
<circle cx="411.0" cy="558.1" r="2.6" fill="#f05a5e"/>
<circle cx="412.6" cy="558.4" r="2.6" fill="#f05a5e"/>
<circle cx="414.1" cy="557.7" r="2.6" fill="#f05a5e"/>
<circle cx="415.7" cy="554.6" r="2.6" fill="#f05a5e"/>
<circle cx="417.2" cy="558.5" r="2.6" fill="#f05a5e"/>
<circle cx="418.8" cy="557.7" r="2.6" fill="#f05a5e"/>
<circle cx="420.3" cy="556.6" r="2.6" fill="#f05a5e"/>
<circle cx="421.9" cy="556.8" r="2.6" fill="#f05a5e"/>
<circle cx="423.4" cy="556.9" r="2.6" fill="#f05a5e"/>
<circle cx="425.0" cy="558.1" r="2.6" fill="#f05a5e"/>
<circle cx="426.6" cy="557.4" r="2.6" fill="#f05a5e"/>
<circle cx="428.1" cy="558.0" r="2.6" fill="#f05a5e"/>
<circle cx="429.7" cy="554.6" r="2.6" fill="#f05a5e"/>
<circle cx="431.2" cy="558.4" r="2.6" fill="#f05a5e"/>
<circle cx="432.8" cy="558.2" r="2.6" fill="#f05a5e"/>
<circle cx="440.5" cy="558.3" r="2.6" fill="#f05a5e"/>
<circle cx="448.3" cy="556.8" r="2.6" fill="#f05a5e"/>
<circle cx="456.1" cy="556.8" r="2.6" fill="#f05a5e"/>
<circle cx="463.8" cy="554.6" r="2.6" fill="#f05a5e"/>
<circle cx="465.4" cy="556.4" r="2.6" fill="#f05a5e"/>
<circle cx="466.9" cy="556.1" r="2.6" fill="#f05a5e"/>
<circle cx="468.5" cy="555.2" r="2.6" fill="#f05a5e"/>
<circle cx="470.1" cy="554.9" r="2.6" fill="#f05a5e"/>
<circle cx="471.6" cy="554.6" r="2.6" fill="#f05a5e"/>
<circle cx="473.2" cy="554.5" r="2.6" fill="#f05a5e"/>
<circle cx="474.7" cy="556.7" r="2.6" fill="#f05a5e"/>
<circle cx="476.3" cy="555.3" r="2.6" fill="#f05a5e"/>
<circle cx="477.8" cy="555.1" r="2.6" fill="#f05a5e"/>
<circle cx="479.4" cy="555.5" r="2.6" fill="#f05a5e"/>
<circle cx="480.9" cy="556.5" r="2.6" fill="#f05a5e"/>
<circle cx="482.5" cy="555.6" r="2.6" fill="#f05a5e"/>
<circle cx="484.0" cy="556.7" r="2.6" fill="#f05a5e"/>
<circle cx="485.6" cy="554.3" r="2.6" fill="#f05a5e"/>
<circle cx="486.8" cy="552.4" r="2.6" fill="#f05a5e"/>
<circle cx="487.1" cy="554.5" r="2.6" fill="#f05a5e"/>
<circle cx="488.7" cy="555.4" r="2.6" fill="#f05a5e"/>
<circle cx="490.3" cy="556.1" r="2.6" fill="#f05a5e"/>
<circle cx="491.8" cy="554.4" r="2.6" fill="#f05a5e"/>
<circle cx="493.4" cy="555.3" r="2.6" fill="#f05a5e"/>
<circle cx="494.9" cy="554.5" r="2.6" fill="#f05a5e"/>
<circle cx="496.5" cy="550.2" r="2.6" fill="#f05a5e"/>
<circle cx="498.0" cy="555.5" r="2.6" fill="#f05a5e"/>
<circle cx="499.6" cy="555.8" r="2.6" fill="#f05a5e"/>
<circle cx="501.1" cy="555.3" r="2.6" fill="#f05a5e"/>
<circle cx="502.7" cy="527.9" r="2.6" fill="#f05a5e"/>
<circle cx="504.2" cy="556.5" r="2.6" fill="#f05a5e"/>
<circle cx="505.8" cy="556.1" r="2.6" fill="#f05a5e"/>
<circle cx="507.3" cy="554.7" r="2.6" fill="#f05a5e"/>
<circle cx="508.9" cy="556.8" r="2.6" fill="#f05a5e"/>
<circle cx="510.4" cy="532.3" r="2.6" fill="#f05a5e"/>
<circle cx="512.0" cy="555.2" r="2.6" fill="#f05a5e"/>
<circle cx="513.6" cy="556.2" r="2.6" fill="#f05a5e"/>
<circle cx="515.1" cy="555.5" r="2.6" fill="#f05a5e"/>
<circle cx="516.7" cy="555.6" r="2.6" fill="#f05a5e"/>
<circle cx="518.2" cy="550.6" r="2.6" fill="#f05a5e"/>
<circle cx="519.8" cy="554.2" r="2.6" fill="#f05a5e"/>
<circle cx="521.3" cy="556.4" r="2.6" fill="#f05a5e"/>
<circle cx="522.9" cy="555.8" r="2.6" fill="#f05a5e"/>
<circle cx="524.4" cy="556.4" r="2.6" fill="#f05a5e"/>
<circle cx="526.0" cy="557.9" r="2.6" fill="#f05a5e"/>
<circle cx="527.5" cy="559.9" r="2.6" fill="#f05a5e"/>
<circle cx="529.1" cy="559.4" r="2.6" fill="#f05a5e"/>
<circle cx="530.6" cy="557.3" r="2.6" fill="#f05a5e"/>
<circle cx="532.2" cy="559.6" r="2.6" fill="#f05a5e"/>
<circle cx="533.8" cy="558.3" r="2.6" fill="#f05a5e"/>
<circle cx="534.5" cy="567.8" r="2.6" fill="#f05a5e"/>
<circle cx="535.3" cy="576.3" r="2.6" fill="#f05a5e"/>
<circle cx="536.9" cy="560.9" r="2.6" fill="#f05a5e"/>
<circle cx="538.4" cy="561.1" r="2.6" fill="#f05a5e"/>
<circle cx="540.0" cy="570.4" r="2.6" fill="#f05a5e"/>
<circle cx="541.5" cy="557.2" r="2.6" fill="#f05a5e"/>
<circle cx="543.1" cy="558.0" r="2.6" fill="#f05a5e"/>
<circle cx="544.6" cy="560.1" r="2.6" fill="#f05a5e"/>
<circle cx="545.6" cy="549.5" r="2.6" fill="#f05a5e"/>
<circle cx="546.2" cy="559.6" r="2.6" fill="#f05a5e"/>
<circle cx="547.7" cy="560.4" r="2.6" fill="#f05a5e"/>
<circle cx="549.3" cy="558.9" r="2.6" fill="#f05a5e"/>
<circle cx="550.8" cy="561.2" r="2.6" fill="#f05a5e"/>
<circle cx="552.4" cy="557.5" r="2.6" fill="#f05a5e"/>
<circle cx="554.0" cy="556.4" r="2.6" fill="#f05a5e"/>
<circle cx="555.5" cy="556.1" r="2.6" fill="#f05a5e"/>
<circle cx="557.1" cy="550.2" r="2.6" fill="#f05a5e"/>
<circle cx="558.6" cy="558.4" r="2.6" fill="#f05a5e"/>
<circle cx="560.2" cy="559.7" r="2.6" fill="#f05a5e"/>
<circle cx="561.7" cy="559.4" r="2.6" fill="#f05a5e"/>
<circle cx="563.3" cy="558.4" r="2.6" fill="#f05a5e"/>
<circle cx="564.8" cy="558.7" r="2.6" fill="#f05a5e"/>
<circle cx="566.4" cy="559.2" r="2.6" fill="#f05a5e"/>
<circle cx="567.9" cy="558.4" r="2.6" fill="#f05a5e"/>
<circle cx="569.5" cy="558.9" r="2.6" fill="#f05a5e"/>
<circle cx="571.0" cy="558.6" r="2.6" fill="#f05a5e"/>
<circle cx="572.6" cy="559.3" r="2.6" fill="#f05a5e"/>
<circle cx="574.2" cy="559.5" r="2.6" fill="#f05a5e"/>
<circle cx="575.7" cy="559.1" r="2.6" fill="#f05a5e"/>
<circle cx="577.3" cy="559.6" r="2.6" fill="#f05a5e"/>
<circle cx="578.8" cy="559.2" r="2.6" fill="#f05a5e"/>
<circle cx="580.4" cy="558.4" r="2.6" fill="#f05a5e"/>
<circle cx="581.9" cy="559.3" r="2.6" fill="#f05a5e"/>
<circle cx="583.5" cy="559.7" r="2.6" fill="#f05a5e"/>
<circle cx="585.0" cy="559.7" r="2.6" fill="#f05a5e"/>
<circle cx="586.6" cy="559.5" r="2.6" fill="#f05a5e"/>
<circle cx="588.1" cy="558.7" r="2.6" fill="#f05a5e"/>
<circle cx="589.7" cy="559.3" r="2.6" fill="#f05a5e"/>
<circle cx="591.2" cy="559.4" r="2.6" fill="#f05a5e"/>
<circle cx="592.8" cy="559.6" r="2.6" fill="#f05a5e"/>
<circle cx="594.3" cy="558.4" r="2.6" fill="#f05a5e"/>
<circle cx="595.9" cy="559.2" r="2.6" fill="#f05a5e"/>
<circle cx="597.5" cy="559.5" r="2.6" fill="#f05a5e"/>
<circle cx="599.0" cy="559.7" r="2.6" fill="#f05a5e"/>
<circle cx="600.6" cy="559.7" r="2.6" fill="#f05a5e"/>
<circle cx="602.1" cy="559.5" r="2.6" fill="#f05a5e"/>
<circle cx="603.7" cy="558.8" r="2.6" fill="#f05a5e"/>
<circle cx="605.2" cy="559.6" r="2.6" fill="#f05a5e"/>
<circle cx="606.8" cy="559.7" r="2.6" fill="#f05a5e"/>
<circle cx="608.3" cy="559.1" r="2.6" fill="#f05a5e"/>
<circle cx="609.9" cy="559.4" r="2.6" fill="#f05a5e"/>
<circle cx="611.4" cy="558.4" r="2.6" fill="#f05a5e"/>
<circle cx="613.0" cy="559.6" r="2.6" fill="#f05a5e"/>
<circle cx="614.5" cy="559.0" r="2.6" fill="#f05a5e"/>
<circle cx="616.1" cy="558.7" r="2.6" fill="#f05a5e"/>
<circle cx="617.7" cy="559.2" r="2.6" fill="#f05a5e"/>
<circle cx="619.2" cy="558.4" r="2.6" fill="#f05a5e"/>
<circle cx="627.0" cy="559.2" r="2.6" fill="#f05a5e"/>
<circle cx="634.7" cy="559.2" r="2.6" fill="#f05a5e"/>
<circle cx="642.5" cy="559.2" r="2.6" fill="#f05a5e"/>
<circle cx="650.3" cy="559.2" r="2.6" fill="#f05a5e"/>
<circle cx="658.0" cy="559.2" r="2.6" fill="#f05a5e"/>
<circle cx="665.8" cy="559.2" r="2.6" fill="#f05a5e"/>
<circle cx="673.6" cy="559.2" r="2.6" fill="#f05a5e"/>
<circle cx="681.4" cy="559.2" r="2.6" fill="#f05a5e"/>
<circle cx="689.1" cy="559.2" r="2.6" fill="#f05a5e"/>
<circle cx="696.9" cy="559.2" r="2.6" fill="#f05a5e"/>
<circle cx="704.7" cy="559.2" r="2.6" fill="#f05a5e"/>
<circle cx="712.4" cy="559.2" r="2.6" fill="#f05a5e"/>
<circle cx="720.2" cy="559.2" r="2.6" fill="#f05a5e"/>
<circle cx="728.0" cy="559.2" r="2.6" fill="#f05a5e"/>
<circle cx="735.7" cy="559.2" r="2.6" fill="#f05a5e"/>
<circle cx="743.5" cy="559.2" r="2.6" fill="#f05a5e"/>
</g>
<rect x="529.5" y="524" width="54" height="17" fill="#c48e2a"/>
<text x="556.5" y="537.3" font-size="14" fill="#2b1c08" font-weight="bold" letter-spacing="1.5" text-anchor="middle" >560.58</text>
<line x1="357" y1="770" x2="371" y2="770" stroke="#f05a5e" stroke-width="1.3"/>
<circle cx="364" cy="770" r="2.6" fill="#f05a5e"/>
<text x="374.6" y="774.8" font-size="13" fill="#f0f0f0" font-weight="normal" letter-spacing="1.25" text-anchor="start" >2025-03-11</text>
<line x1="456.5" y1="770" x2="471" y2="770" stroke="#5b5bf0" stroke-width="1.3"/>
<circle cx="463.8" cy="770" r="2.6" fill="#5b5bf0"/>
<text x="474.7" y="774.8" font-size="13" fill="#f0f0f0" font-weight="normal" letter-spacing="1.25" text-anchor="start" >2025-03-14</text>
<line x1="875.9" y1="520" x2="875.9" y2="707" stroke="#242a35" stroke-width="1" stroke-dasharray="2,1.7"/>
<line x1="913.2" y1="520" x2="913.2" y2="707" stroke="#242a35" stroke-width="1" stroke-dasharray="2,1.7"/>
<line x1="950.5" y1="520" x2="950.5" y2="707" stroke="#242a35" stroke-width="1" stroke-dasharray="2,1.7"/>
<line x1="987.8" y1="520" x2="987.8" y2="707" stroke="#242a35" stroke-width="1" stroke-dasharray="2,1.7"/>
<line x1="1025.2" y1="520" x2="1025.2" y2="707" stroke="#242a35" stroke-width="1" stroke-dasharray="2,1.7"/>
<line x1="1062.5" y1="520" x2="1062.5" y2="707" stroke="#242a35" stroke-width="1" stroke-dasharray="2,1.7"/>
<line x1="1099.8" y1="520" x2="1099.8" y2="707" stroke="#242a35" stroke-width="1" stroke-dasharray="2,1.7"/>
<line x1="1137.1" y1="520" x2="1137.1" y2="707" stroke="#242a35" stroke-width="1" stroke-dasharray="2,1.7"/>
<line x1="1174.4" y1="520" x2="1174.4" y2="707" stroke="#242a35" stroke-width="1" stroke-dasharray="2,1.7"/>
<line x1="1211.7" y1="520" x2="1211.7" y2="707" stroke="#242a35" stroke-width="1" stroke-dasharray="2,1.7"/>
<line x1="1249.0" y1="520" x2="1249.0" y2="707" stroke="#242a35" stroke-width="1" stroke-dasharray="2,1.7"/>
<line x1="1286.4" y1="520" x2="1286.4" y2="707" stroke="#242a35" stroke-width="1" stroke-dasharray="2,1.7"/>
<line x1="1323.7" y1="520" x2="1323.7" y2="707" stroke="#242a35" stroke-width="1" stroke-dasharray="2,1.7"/>
<line x1="1361.0" y1="520" x2="1361.0" y2="707" stroke="#242a35" stroke-width="1" stroke-dasharray="2,1.7"/>
<line x1="1398.3" y1="520" x2="1398.3" y2="707" stroke="#242a35" stroke-width="1" stroke-dasharray="2,1.7"/>
<line x1="848.1" y1="544.6" x2="1419.2" y2="544.6" stroke="#242a35" stroke-width="1" stroke-dasharray="2,1.7"/>
<line x1="848.1" y1="588.0" x2="1419.2" y2="588.0" stroke="#242a35" stroke-width="1" stroke-dasharray="2,1.7"/>
<line x1="848.1" y1="631.5" x2="1419.2" y2="631.5" stroke="#242a35" stroke-width="1" stroke-dasharray="2,1.7"/>
<line x1="848.1" y1="674.9" x2="1419.2" y2="674.9" stroke="#242a35" stroke-width="1" stroke-dasharray="2,1.7"/>
<line x1="847.1" y1="520" x2="847.1" y2="707" stroke="#8a9099" stroke-width="1"/>
<line x1="850.6" y1="711.2" x2="1419.2" y2="711.2" stroke="#8a9099" stroke-width="1"/>
<line x1="844.1" y1="544.6" x2="847.1" y2="544.6" stroke="#8a9099" stroke-width="1"/>
<text x="840.6" y="549.2" font-size="13" fill="#c8c8c8" font-weight="normal" letter-spacing="1.5" text-anchor="end" stroke="#c8c8c8" stroke-width="0.25">0.65</text>
<line x1="844.1" y1="588.0" x2="847.1" y2="588.0" stroke="#8a9099" stroke-width="1"/>
<text x="840.6" y="592.6" font-size="13" fill="#c8c8c8" font-weight="normal" letter-spacing="1.5" text-anchor="end" stroke="#c8c8c8" stroke-width="0.25">0.60</text>
<line x1="844.1" y1="631.5" x2="847.1" y2="631.5" stroke="#8a9099" stroke-width="1"/>
<text x="840.6" y="636.1" font-size="13" fill="#c8c8c8" font-weight="normal" letter-spacing="1.5" text-anchor="end" stroke="#c8c8c8" stroke-width="0.25">0.55</text>
<line x1="844.1" y1="674.9" x2="847.1" y2="674.9" stroke="#8a9099" stroke-width="1"/>
<text x="840.6" y="679.5" font-size="13" fill="#c8c8c8" font-weight="normal" letter-spacing="1.5" text-anchor="end" stroke="#c8c8c8" stroke-width="0.25">0.50</text>
<line x1="875.9" y1="711.2" x2="875.9" y2="714.2" stroke="#8a9099" stroke-width="1"/>
<text x="876.7" y="729.7" font-size="13" fill="#c8c8c8" font-weight="normal" letter-spacing="1.4" text-anchor="middle" stroke="#c8c8c8" stroke-width="0.25">0.0</text>
<line x1="913.2" y1="711.2" x2="913.2" y2="714.2" stroke="#8a9099" stroke-width="1"/>
<text x="914.0" y="729.7" font-size="13" fill="#c8c8c8" font-weight="normal" letter-spacing="1.4" text-anchor="middle" stroke="#c8c8c8" stroke-width="0.25">0.2</text>
<line x1="950.5" y1="711.2" x2="950.5" y2="714.2" stroke="#8a9099" stroke-width="1"/>
<text x="951.3" y="729.7" font-size="13" fill="#c8c8c8" font-weight="normal" letter-spacing="1.4" text-anchor="middle" stroke="#c8c8c8" stroke-width="0.25">0.4</text>
<line x1="987.8" y1="711.2" x2="987.8" y2="714.2" stroke="#8a9099" stroke-width="1"/>
<text x="988.6" y="729.7" font-size="13" fill="#c8c8c8" font-weight="normal" letter-spacing="1.4" text-anchor="middle" stroke="#c8c8c8" stroke-width="0.25">0.6</text>
<line x1="1025.2" y1="711.2" x2="1025.2" y2="714.2" stroke="#8a9099" stroke-width="1"/>
<text x="1026.0" y="729.7" font-size="13" fill="#c8c8c8" font-weight="normal" letter-spacing="1.4" text-anchor="middle" stroke="#c8c8c8" stroke-width="0.25">0.8</text>
<line x1="1062.5" y1="711.2" x2="1062.5" y2="714.2" stroke="#8a9099" stroke-width="1"/>
<text x="1063.3" y="729.7" font-size="13" fill="#c8c8c8" font-weight="normal" letter-spacing="1.4" text-anchor="middle" stroke="#c8c8c8" stroke-width="0.25">1.0</text>
<line x1="1099.8" y1="711.2" x2="1099.8" y2="714.2" stroke="#8a9099" stroke-width="1"/>
<text x="1100.6" y="729.7" font-size="13" fill="#c8c8c8" font-weight="normal" letter-spacing="1.4" text-anchor="middle" stroke="#c8c8c8" stroke-width="0.25">1.2</text>
<line x1="1137.1" y1="711.2" x2="1137.1" y2="714.2" stroke="#8a9099" stroke-width="1"/>
<text x="1137.9" y="729.7" font-size="13" fill="#c8c8c8" font-weight="normal" letter-spacing="1.4" text-anchor="middle" stroke="#c8c8c8" stroke-width="0.25">1.4</text>
<line x1="1174.4" y1="711.2" x2="1174.4" y2="714.2" stroke="#8a9099" stroke-width="1"/>
<text x="1175.2" y="729.7" font-size="13" fill="#c8c8c8" font-weight="normal" letter-spacing="1.4" text-anchor="middle" stroke="#c8c8c8" stroke-width="0.25">1.6</text>
<line x1="1211.7" y1="711.2" x2="1211.7" y2="714.2" stroke="#8a9099" stroke-width="1"/>
<text x="1212.5" y="729.7" font-size="13" fill="#c8c8c8" font-weight="normal" letter-spacing="1.4" text-anchor="middle" stroke="#c8c8c8" stroke-width="0.25">1.8</text>
<line x1="1249.0" y1="711.2" x2="1249.0" y2="714.2" stroke="#8a9099" stroke-width="1"/>
<text x="1249.8" y="729.7" font-size="13" fill="#c8c8c8" font-weight="normal" letter-spacing="1.4" text-anchor="middle" stroke="#c8c8c8" stroke-width="0.25">2.0</text>
<line x1="1286.4" y1="711.2" x2="1286.4" y2="714.2" stroke="#8a9099" stroke-width="1"/>
<text x="1287.2" y="729.7" font-size="13" fill="#c8c8c8" font-weight="normal" letter-spacing="1.4" text-anchor="middle" stroke="#c8c8c8" stroke-width="0.25">2.2</text>
<line x1="1323.7" y1="711.2" x2="1323.7" y2="714.2" stroke="#8a9099" stroke-width="1"/>
<text x="1324.5" y="729.7" font-size="13" fill="#c8c8c8" font-weight="normal" letter-spacing="1.4" text-anchor="middle" stroke="#c8c8c8" stroke-width="0.25">2.4</text>
<line x1="1361.0" y1="711.2" x2="1361.0" y2="714.2" stroke="#8a9099" stroke-width="1"/>
<text x="1361.8" y="729.7" font-size="13" fill="#c8c8c8" font-weight="normal" letter-spacing="1.4" text-anchor="middle" stroke="#c8c8c8" stroke-width="0.25">2.6</text>
<line x1="1398.3" y1="711.2" x2="1398.3" y2="714.2" stroke="#8a9099" stroke-width="1"/>
<text x="1399.1" y="729.7" font-size="13" fill="#c8c8c8" font-weight="normal" letter-spacing="1.4" text-anchor="middle" stroke="#c8c8c8" stroke-width="0.25">2.8</text>
<text x="1104.5" y="506.0" font-size="17" fill="#e8a33a" font-weight="bold" letter-spacing="0" text-anchor="middle" >Weighted IVol Skew</text>
<text x="0" y="0" font-size="13" fill="#c8c8c8" letter-spacing="1.25" text-anchor="middle" transform="translate(804,614) rotate(-90)">Volatility Imbalance</text>
<text x="1134.0" y="748.0" font-size="13" fill="#c8c8c8" font-weight="normal" letter-spacing="1.2" text-anchor="middle" >Expiry</text>
<circle cx="793" cy="477" r="7.3" fill="none" stroke="#e8a33a" stroke-width="1.5"/>
<rect x="792.1" y="474.5" width="1.9" height="6" fill="#e8a33a"/><rect x="792" y="471.5" width="2" height="1.8" fill="#e8a33a"/><rect x="790.5" y="479.6" width="5" height="1.3" fill="#e8a33a"/>
<text x="806.0" y="481.5" font-size="12" fill="#e8a33a" font-weight="normal" letter-spacing="0" text-anchor="start" >Info</text>
<clipPath id="ci"><rect x="848.1" y="520" width="572.1" height="191.20000000000005"/></clipPath>
<g clip-path="url(#ci)">
<line x1="875.9" y1="520" x2="875.9" y2="707" stroke="#4e525b" stroke-width="1.1" stroke-dasharray="2,2"/>
<path d="M876.0,685.1 L877.6,572.5 L879.5,667.9 L880.6,623.0 L881.6,659.8 L881.8,594.3 L885.2,527.6 L886.8,618.4 L892.6,583.5 L899.5,629.3 L902.5,600.0 L910.5,574.3 L917.8,613.4 L928.1,557.5 L933.4,611.6 L942.6,595.9 L949.5,655.2 L956.9,595.9 L964.2,657.1 L974.8,576.6 L980.3,635.7 L1021.1,587.4 L1027.3,640.3 L1035.4,615.5 L1067.4,600.3 L1206.9,668.9 L1220.7,631.7 L1393.7,698.7" fill="none" stroke="#e0607c" stroke-width="1.3" stroke-linejoin="round"/>
</g>
<line x1="1008" y1="770" x2="1022" y2="770" stroke="#a04050" stroke-width="1.0"/>
<text x="1025.6" y="774.8" font-size="13" fill="#f0f0f0" font-weight="normal" letter-spacing="1.25" text-anchor="start" >2025-03-11</text>
<line x1="1107.5" y1="770" x2="1122" y2="770" stroke="#4040b0" stroke-width="1.0"/>
<text x="1125.7" y="774.8" font-size="13" fill="#f0f0f0" font-weight="normal" letter-spacing="1.25" text-anchor="start" >2025-03-14</text>
</svg>
</body></html>
